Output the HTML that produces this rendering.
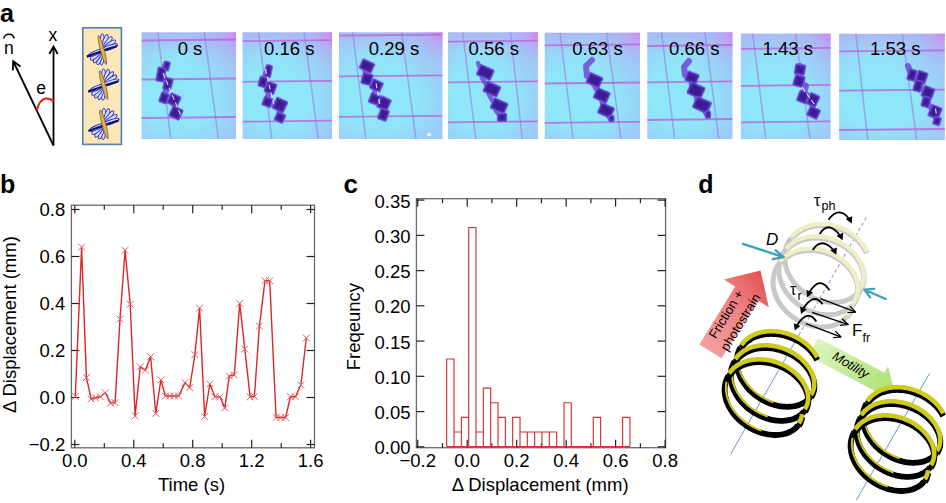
<!DOCTYPE html>
<html><head><meta charset="utf-8"><style>
html,body{margin:0;padding:0;background:#fff;}
svg{display:block;}
text{fill:#000;}
</style></head><body>
<svg width="946" height="503" viewBox="0 0 946 503" font-family='"Liberation Sans", sans-serif'>
<defs><linearGradient id="pg" x1="0" y1="0" x2="0" y2="1">
<stop offset="0" stop-color="#b0baf4"/><stop offset="0.08" stop-color="#a2cef6"/><stop offset="0.2" stop-color="#92e4f9"/><stop offset="0.8" stop-color="#8ee8fa"/><stop offset="1" stop-color="#96dcf8"/></linearGradient><radialGradient id="ph" cx="0.4" cy="0.6" r="0.75"><stop offset="0.45" stop-color="#a4bcf6" stop-opacity="0"/><stop offset="1" stop-color="#a4b8f6" stop-opacity="0.75"/></radialGradient><filter id="soft" x="-5%" y="-5%" width="110%" height="110%"><feGaussianBlur stdDeviation="0.6"/></filter><radialGradient id="pl" cx="1" cy="0" r="0.6"><stop offset="0" stop-color="#b4a4f0" stop-opacity="0.45"/><stop offset="1" stop-color="#b0b4f2" stop-opacity="0"/></radialGradient><radialGradient id="pk" cx="1" cy="0" r="0.28"><stop offset="0" stop-color="#e070f0" stop-opacity="0.75"/><stop offset="0.5" stop-color="#d890f2" stop-opacity="0.25"/><stop offset="1" stop-color="#c0a0f4" stop-opacity="0"/></radialGradient><clipPath id="c0"><rect x="141.4" y="32.2" width="94.8" height="106.8"/></clipPath><clipPath id="c1"><rect x="242.4" y="32.2" width="89.7" height="106.8"/></clipPath><clipPath id="c2"><rect x="338.8" y="32.2" width="103.8" height="106.8"/></clipPath><clipPath id="c3"><rect x="447.9" y="32.2" width="90.0" height="106.8"/></clipPath><clipPath id="c4"><rect x="544.5" y="32.6" width="95.5" height="106.4"/></clipPath><clipPath id="c5"><rect x="647.2" y="32.2" width="85.4" height="106.8"/></clipPath><clipPath id="c6"><rect x="740.7" y="33.4" width="90.0" height="105.6"/></clipPath><clipPath id="c7"><rect x="839.1" y="33.6" width="105.7" height="106.4"/></clipPath><linearGradient id="rg" x1="0" y1="1" x2="1" y2="0"><stop offset="0" stop-color="#f5a6a6"/><stop offset="0.6" stop-color="#ee7f7f"/><stop offset="1" stop-color="#e14a4a"/></linearGradient><linearGradient id="gg" x1="0" y1="0" x2="1" y2="0.5"><stop offset="0" stop-color="#e3f6c8"/><stop offset="1" stop-color="#b2e47e"/></linearGradient><marker id="ah" markerWidth="8" markerHeight="8" refX="7" refY="4" orient="auto" markerUnits="userSpaceOnUse"><path d="M0,0.5 L7.5,4 L0,7.5" fill="none" stroke="#000" stroke-width="1.3"/></marker></defs>
<text x="0.1" y="22.3" font-size="25" font-weight="bold">a</text>
<text x="3.9" y="54.4" font-size="17.5">n</text>
<path d="M3.9,38.6 A5.1,4.4 0 0 1 14.1,38.6" fill="none" stroke="#000" stroke-width="1.6"/>
<text x="48.4" y="40.6" font-size="17.5">x</text>
<line x1="53.5" y1="145.5" x2="53.5" y2="47.5" stroke="#000" stroke-width="1.8"/>
<path d="M49.3,54 L53.5,46.5 L57.7,54" fill="none" stroke="#000" stroke-width="1.8" stroke-linejoin="miter"/>
<line x1="53.5" y1="145.5" x2="13.8" y2="62.5" stroke="#000" stroke-width="1.8"/>
<path d="M20.5,66.6 L13.2,61.3 L12.8,70.4" fill="none" stroke="#000" stroke-width="1.8"/>
<text x="36.2" y="93.8" font-size="17.5">e</text>
<path d="M36.8,110.5 Q39.5,99.5 45.5,98.6 Q50.5,98.2 53.5,101.5" fill="none" stroke="#e0201a" stroke-width="2"/>
<rect x="82.8" y="27.8" width="38.6" height="116.6" fill="#fde6b8" stroke="#5a84b6" stroke-width="1.7"/>
<g transform="translate(102.3,49.9)"><ellipse cx="8" cy="0" rx="8.2" ry="2.1" transform="rotate(-90)" fill="#dcdefc" stroke="#2a30c0" stroke-width="0.95"/><ellipse cx="8" cy="0" rx="8.2" ry="2.1" transform="rotate(-72)" fill="#dcdefc" stroke="#2a30c0" stroke-width="0.95"/><ellipse cx="8" cy="0" rx="8.2" ry="2.1" transform="rotate(-54)" fill="#dcdefc" stroke="#2a30c0" stroke-width="0.95"/><ellipse cx="8" cy="0" rx="8.2" ry="2.1" transform="rotate(-36)" fill="#dcdefc" stroke="#2a30c0" stroke-width="0.95"/><ellipse cx="8" cy="0" rx="8.2" ry="2.1" transform="rotate(-19)" fill="#dcdefc" stroke="#2a30c0" stroke-width="0.95"/><ellipse cx="7.6" cy="0" rx="7.8" ry="2.1" transform="rotate(93)" fill="#dcdefc" stroke="#2a30c0" stroke-width="0.95"/><ellipse cx="7.6" cy="0" rx="7.8" ry="2.1" transform="rotate(108)" fill="#dcdefc" stroke="#2a30c0" stroke-width="0.95"/><ellipse cx="7.6" cy="0" rx="7.8" ry="2.1" transform="rotate(124)" fill="#dcdefc" stroke="#2a30c0" stroke-width="0.95"/><ellipse cx="7.6" cy="0" rx="7.8" ry="2.1" transform="rotate(140)" fill="#dcdefc" stroke="#2a30c0" stroke-width="0.95"/><ellipse cx="7.6" cy="0" rx="7.8" ry="2.1" transform="rotate(156)" fill="#dcdefc" stroke="#2a30c0" stroke-width="0.95"/><path d="M-15.8,5.6 L-4,1.4 L4,-1.6 L15,-5 L14.6,-2.6 L4,0.8 L-4,3.6 L-15.2,7.8 Z" fill="#0c0e6c"/><ellipse cx="0" cy="0" rx="1.9" ry="15" transform="rotate(-15)" fill="#eab232" stroke="#6a5a60" stroke-width="0.7"/></g>
<g transform="translate(103.6,85)"><ellipse cx="8" cy="0" rx="8.2" ry="2.1" transform="rotate(-90)" fill="#dcdefc" stroke="#2a30c0" stroke-width="0.95"/><ellipse cx="8" cy="0" rx="8.2" ry="2.1" transform="rotate(-72)" fill="#dcdefc" stroke="#2a30c0" stroke-width="0.95"/><ellipse cx="8" cy="0" rx="8.2" ry="2.1" transform="rotate(-54)" fill="#dcdefc" stroke="#2a30c0" stroke-width="0.95"/><ellipse cx="8" cy="0" rx="8.2" ry="2.1" transform="rotate(-36)" fill="#dcdefc" stroke="#2a30c0" stroke-width="0.95"/><ellipse cx="8" cy="0" rx="8.2" ry="2.1" transform="rotate(-19)" fill="#dcdefc" stroke="#2a30c0" stroke-width="0.95"/><ellipse cx="7.6" cy="0" rx="7.8" ry="2.1" transform="rotate(93)" fill="#dcdefc" stroke="#2a30c0" stroke-width="0.95"/><ellipse cx="7.6" cy="0" rx="7.8" ry="2.1" transform="rotate(108)" fill="#dcdefc" stroke="#2a30c0" stroke-width="0.95"/><ellipse cx="7.6" cy="0" rx="7.8" ry="2.1" transform="rotate(124)" fill="#dcdefc" stroke="#2a30c0" stroke-width="0.95"/><ellipse cx="7.6" cy="0" rx="7.8" ry="2.1" transform="rotate(140)" fill="#dcdefc" stroke="#2a30c0" stroke-width="0.95"/><ellipse cx="7.6" cy="0" rx="7.8" ry="2.1" transform="rotate(156)" fill="#dcdefc" stroke="#2a30c0" stroke-width="0.95"/><path d="M-15.8,5.6 L-4,1.4 L4,-1.6 L15,-5 L14.6,-2.6 L4,0.8 L-4,3.6 L-15.2,7.8 Z" fill="#0c0e6c"/><ellipse cx="0" cy="0" rx="1.9" ry="15" transform="rotate(-15)" fill="#eab232" stroke="#6a5a60" stroke-width="0.7"/></g>
<g transform="translate(103.9,124.3)"><ellipse cx="8" cy="0" rx="8.2" ry="2.1" transform="rotate(-90)" fill="#dcdefc" stroke="#2a30c0" stroke-width="0.95"/><ellipse cx="8" cy="0" rx="8.2" ry="2.1" transform="rotate(-72)" fill="#dcdefc" stroke="#2a30c0" stroke-width="0.95"/><ellipse cx="8" cy="0" rx="8.2" ry="2.1" transform="rotate(-54)" fill="#dcdefc" stroke="#2a30c0" stroke-width="0.95"/><ellipse cx="8" cy="0" rx="8.2" ry="2.1" transform="rotate(-36)" fill="#dcdefc" stroke="#2a30c0" stroke-width="0.95"/><ellipse cx="8" cy="0" rx="8.2" ry="2.1" transform="rotate(-19)" fill="#dcdefc" stroke="#2a30c0" stroke-width="0.95"/><ellipse cx="7.6" cy="0" rx="7.8" ry="2.1" transform="rotate(93)" fill="#dcdefc" stroke="#2a30c0" stroke-width="0.95"/><ellipse cx="7.6" cy="0" rx="7.8" ry="2.1" transform="rotate(108)" fill="#dcdefc" stroke="#2a30c0" stroke-width="0.95"/><ellipse cx="7.6" cy="0" rx="7.8" ry="2.1" transform="rotate(124)" fill="#dcdefc" stroke="#2a30c0" stroke-width="0.95"/><ellipse cx="7.6" cy="0" rx="7.8" ry="2.1" transform="rotate(140)" fill="#dcdefc" stroke="#2a30c0" stroke-width="0.95"/><ellipse cx="7.6" cy="0" rx="7.8" ry="2.1" transform="rotate(156)" fill="#dcdefc" stroke="#2a30c0" stroke-width="0.95"/><path d="M-15.8,5.6 L-4,1.4 L4,-1.6 L15,-5 L14.6,-2.6 L4,0.8 L-4,3.6 L-15.2,7.8 Z" fill="#0c0e6c"/><ellipse cx="0" cy="0" rx="1.9" ry="15" transform="rotate(-15)" fill="#eab232" stroke="#6a5a60" stroke-width="0.7"/></g>
<g clip-path="url(#c0)"><rect x="141.4" y="32.2" width="94.8" height="106.8" fill="url(#pg)"/><rect x="141.4" y="32.2" width="94.8" height="106.8" fill="url(#ph)"/><rect x="141.4" y="32.2" width="94.8" height="106.8" fill="url(#pl)"/><rect x="141.4" y="32.2" width="94.8" height="106.8" fill="url(#pk)"/><g filter="url(#soft)"><line x1="157.7" y1="32.2" x2="170.8" y2="139" stroke="#9888e4" stroke-width="1.5" stroke-opacity="0.7"/><line x1="204.2" y1="32.2" x2="218.5" y2="139" stroke="#9888e4" stroke-width="1.5" stroke-opacity="0.7"/><line x1="141.4" y1="40.5" x2="236.2" y2="39.5" stroke="#bc62d8" stroke-width="1.8" stroke-opacity="0.8"/><line x1="141.4" y1="79.5" x2="236.2" y2="78.5" stroke="#bc62d8" stroke-width="1.8" stroke-opacity="0.8"/><line x1="141.4" y1="118" x2="236.2" y2="117.0" stroke="#bc62d8" stroke-width="1.8" stroke-opacity="0.8"/><path d="M166,64 L162,74 L168,84 L164,97 L174,101 L176,114" fill="none" stroke="#6c4ad8" stroke-width="6" stroke-linejoin="round" stroke-linecap="round" stroke-opacity="0.85"/><rect x="163.5" y="61.5" width="6" height="9" rx="1.2" transform="rotate(15 166.5 66)" fill="#4c28aa" stroke="#7454dc" stroke-width="1.4" stroke-opacity="0.85"/><rect x="165.7" y="63.7" width="1.6" height="4.6" transform="rotate(15 166.5 66)" fill="#341a86" fill-opacity="0.75"/><rect x="157.0" y="67.5" width="8" height="14" rx="1.2" transform="rotate(10 161 74.5)" fill="#4c28aa" stroke="#7454dc" stroke-width="1.4" stroke-opacity="0.85"/><rect x="159.2" y="69.7" width="3.6" height="9.6" transform="rotate(10 161 74.5)" fill="#341a86" fill-opacity="0.75"/><rect x="164.0" y="78.0" width="8" height="12" rx="1.2" transform="rotate(15 168 84)" fill="#4c28aa" stroke="#7454dc" stroke-width="1.4" stroke-opacity="0.85"/><rect x="166.2" y="80.2" width="3.6" height="7.6" transform="rotate(15 168 84)" fill="#341a86" fill-opacity="0.75"/><rect x="160.0" y="93.0" width="8" height="10" rx="1.2" transform="rotate(20 164 98)" fill="#4c28aa" stroke="#7454dc" stroke-width="1.4" stroke-opacity="0.85"/><rect x="162.2" y="95.2" width="3.6" height="5.6" transform="rotate(20 164 98)" fill="#341a86" fill-opacity="0.75"/><rect x="168.5" y="94.5" width="11" height="11" rx="1.2" transform="rotate(25 174 100)" fill="#4c28aa" stroke="#7454dc" stroke-width="1.4" stroke-opacity="0.85"/><rect x="170.7" y="96.7" width="6.6" height="6.6" transform="rotate(25 174 100)" fill="#341a86" fill-opacity="0.75"/><rect x="170.5" y="107.5" width="11" height="11" rx="1.2" transform="rotate(25 176 113)" fill="#4c28aa" stroke="#7454dc" stroke-width="1.4" stroke-opacity="0.85"/><rect x="172.7" y="109.7" width="6.6" height="6.6" transform="rotate(25 176 113)" fill="#341a86" fill-opacity="0.75"/><line x1="163" y1="73" x2="181" y2="116" stroke="#f6f0ff" stroke-width="1.2" stroke-dasharray="5 3" stroke-opacity="0.85"/></g></g><text x="190" y="54.8" font-size="18.5" text-anchor="middle">0 s</text>
<g clip-path="url(#c1)"><rect x="242.4" y="32.2" width="89.7" height="106.8" fill="url(#pg)"/><rect x="242.4" y="32.2" width="89.7" height="106.8" fill="url(#ph)"/><rect x="242.4" y="32.2" width="89.7" height="106.8" fill="url(#pl)"/><rect x="242.4" y="32.2" width="89.7" height="106.8" fill="url(#pk)"/><g filter="url(#soft)"><line x1="258.6" y1="32.2" x2="271.8" y2="139" stroke="#9888e4" stroke-width="1.5" stroke-opacity="0.7"/><line x1="304" y1="32.2" x2="318.3" y2="139" stroke="#9888e4" stroke-width="1.5" stroke-opacity="0.7"/><line x1="242.4" y1="41.2" x2="332.1" y2="40.2" stroke="#bc62d8" stroke-width="1.8" stroke-opacity="0.8"/><line x1="242.4" y1="81.8" x2="332.1" y2="80.8" stroke="#bc62d8" stroke-width="1.8" stroke-opacity="0.8"/><line x1="242.4" y1="121.7" x2="332.1" y2="120.7" stroke="#bc62d8" stroke-width="1.8" stroke-opacity="0.8"/><path d="M268,68 L263,82 L270,88 L267,102 L279,106 L280,117" fill="none" stroke="#6c4ad8" stroke-width="6" stroke-linejoin="round" stroke-linecap="round" stroke-opacity="0.85"/><rect x="265.5" y="65.0" width="6" height="12" rx="1.2" transform="rotate(10 268.5 71)" fill="#4c28aa" stroke="#7454dc" stroke-width="1.4" stroke-opacity="0.85"/><rect x="267.7" y="67.2" width="1.6" height="7.6" transform="rotate(10 268.5 71)" fill="#341a86" fill-opacity="0.75"/><rect x="259.0" y="77.0" width="8" height="10" rx="1.2" transform="rotate(15 263 82)" fill="#4c28aa" stroke="#7454dc" stroke-width="1.4" stroke-opacity="0.85"/><rect x="261.2" y="79.2" width="3.6" height="5.6" transform="rotate(15 263 82)" fill="#341a86" fill-opacity="0.75"/><rect x="265.5" y="82.5" width="10" height="11" rx="1.2" transform="rotate(20 270.5 88)" fill="#4c28aa" stroke="#7454dc" stroke-width="1.4" stroke-opacity="0.85"/><rect x="267.7" y="84.7" width="5.6" height="6.6" transform="rotate(20 270.5 88)" fill="#341a86" fill-opacity="0.75"/><rect x="263.0" y="97.5" width="9" height="9" rx="1.2" transform="rotate(20 267.5 102)" fill="#4c28aa" stroke="#7454dc" stroke-width="1.4" stroke-opacity="0.85"/><rect x="265.2" y="99.7" width="4.6" height="4.6" transform="rotate(20 267.5 102)" fill="#341a86" fill-opacity="0.75"/><rect x="274.0" y="99.0" width="12" height="12" rx="1.2" transform="rotate(25 280 105)" fill="#4c28aa" stroke="#7454dc" stroke-width="1.4" stroke-opacity="0.85"/><rect x="276.2" y="101.2" width="7.6" height="7.6" transform="rotate(25 280 105)" fill="#341a86" fill-opacity="0.75"/><rect x="275.5" y="113.0" width="9" height="9" rx="1.2" transform="rotate(25 280 117.5)" fill="#4c28aa" stroke="#7454dc" stroke-width="1.4" stroke-opacity="0.85"/><rect x="277.7" y="115.2" width="4.6" height="4.6" transform="rotate(25 280 117.5)" fill="#341a86" fill-opacity="0.75"/><line x1="265.3" y1="69" x2="273.7" y2="104" stroke="#f6f0ff" stroke-width="1.2" stroke-dasharray="5 3" stroke-opacity="0.85"/></g></g><text x="289.2" y="54.8" font-size="18.5" text-anchor="middle">0.16 s</text>
<g clip-path="url(#c2)"><rect x="338.8" y="32.2" width="103.8" height="106.8" fill="url(#pg)"/><rect x="338.8" y="32.2" width="103.8" height="106.8" fill="url(#ph)"/><rect x="338.8" y="32.2" width="103.8" height="106.8" fill="url(#pl)"/><rect x="338.8" y="32.2" width="103.8" height="106.8" fill="url(#pk)"/><g filter="url(#soft)"><line x1="352.7" y1="32.2" x2="365.8" y2="139" stroke="#9888e4" stroke-width="1.5" stroke-opacity="0.7"/><line x1="401.6" y1="32.2" x2="415.9" y2="139" stroke="#9888e4" stroke-width="1.5" stroke-opacity="0.7"/><line x1="338.8" y1="35.7" x2="442.6" y2="34.7" stroke="#bc62d8" stroke-width="1.8" stroke-opacity="0.8"/><line x1="338.8" y1="76.3" x2="442.6" y2="75.3" stroke="#bc62d8" stroke-width="1.8" stroke-opacity="0.8"/><line x1="338.8" y1="116.9" x2="442.6" y2="115.9" stroke="#bc62d8" stroke-width="1.8" stroke-opacity="0.8"/><path d="M364,64 L367,79 L376,86 L374,99 L384,104 L383,115" fill="none" stroke="#6c4ad8" stroke-width="6" stroke-linejoin="round" stroke-linecap="round" stroke-opacity="0.85"/><rect x="360.5" y="61.0" width="13" height="10" rx="1.2" transform="rotate(25 367 66)" fill="#4c28aa" stroke="#7454dc" stroke-width="1.4" stroke-opacity="0.85"/><rect x="362.7" y="63.2" width="8.6" height="5.6" transform="rotate(25 367 66)" fill="#341a86" fill-opacity="0.75"/><rect x="362.0" y="73.5" width="10" height="11" rx="1.2" transform="rotate(15 367 79)" fill="#4c28aa" stroke="#7454dc" stroke-width="1.4" stroke-opacity="0.85"/><rect x="364.2" y="75.7" width="5.6" height="6.6" transform="rotate(15 367 79)" fill="#341a86" fill-opacity="0.75"/><rect x="371.0" y="80.6" width="11" height="10" rx="1.2" transform="rotate(25 376.5 85.6)" fill="#4c28aa" stroke="#7454dc" stroke-width="1.4" stroke-opacity="0.85"/><rect x="373.2" y="82.8" width="6.6" height="5.6" transform="rotate(25 376.5 85.6)" fill="#341a86" fill-opacity="0.75"/><rect x="369.6" y="94.0" width="10" height="10" rx="1.2" transform="rotate(20 374.6 99)" fill="#4c28aa" stroke="#7454dc" stroke-width="1.4" stroke-opacity="0.85"/><rect x="371.8" y="96.2" width="5.6" height="5.6" transform="rotate(20 374.6 99)" fill="#341a86" fill-opacity="0.75"/><rect x="378.5" y="97.5" width="11" height="12" rx="1.2" transform="rotate(25 384 103.5)" fill="#4c28aa" stroke="#7454dc" stroke-width="1.4" stroke-opacity="0.85"/><rect x="380.7" y="99.7" width="6.6" height="7.6" transform="rotate(25 384 103.5)" fill="#341a86" fill-opacity="0.75"/><rect x="379.0" y="109.2" width="9" height="11" rx="1.2" transform="rotate(20 383.5 114.7)" fill="#4c28aa" stroke="#7454dc" stroke-width="1.4" stroke-opacity="0.85"/><rect x="381.2" y="111.4" width="4.6" height="6.6" transform="rotate(20 383.5 114.7)" fill="#341a86" fill-opacity="0.75"/><line x1="376.1" y1="83.3" x2="379.9" y2="105.7" stroke="#f6f0ff" stroke-width="1.2" stroke-dasharray="5 3" stroke-opacity="0.85"/><circle cx="429" cy="134.6" r="2" fill="#f4f4ff"/></g></g><text x="394" y="54.8" font-size="18.5" text-anchor="middle">0.29 s</text>
<g clip-path="url(#c3)"><rect x="447.9" y="32.2" width="90.0" height="106.8" fill="url(#pg)"/><rect x="447.9" y="32.2" width="90.0" height="106.8" fill="url(#ph)"/><rect x="447.9" y="32.2" width="90.0" height="106.8" fill="url(#pl)"/><rect x="447.9" y="32.2" width="90.0" height="106.8" fill="url(#pk)"/><g filter="url(#soft)"><line x1="462.7" y1="32.2" x2="475.8" y2="139" stroke="#9888e4" stroke-width="1.5" stroke-opacity="0.7"/><line x1="510.4" y1="32.2" x2="522.3" y2="139" stroke="#9888e4" stroke-width="1.5" stroke-opacity="0.7"/><line x1="447.9" y1="41.7" x2="537.9" y2="40.7" stroke="#bc62d8" stroke-width="1.8" stroke-opacity="0.8"/><line x1="447.9" y1="82.3" x2="537.9" y2="81.3" stroke="#bc62d8" stroke-width="1.8" stroke-opacity="0.8"/><line x1="447.9" y1="122.4" x2="537.9" y2="121.4" stroke="#bc62d8" stroke-width="1.8" stroke-opacity="0.8"/><path d="M478,63 L481,71 L482,78 L487,86 L489,95 L494,103 L496,111 L501,117" fill="none" stroke="#6c4ad8" stroke-width="4.5" stroke-linejoin="round" stroke-linecap="round" stroke-opacity="0.85"/><rect x="477.8" y="66.9" width="15" height="11" rx="1.2" transform="rotate(24 485.3 72.4)" fill="#4c28aa" stroke="#7454dc" stroke-width="1.4" stroke-opacity="0.85"/><rect x="480.0" y="69.1" width="10.6" height="6.6" transform="rotate(24 485.3 72.4)" fill="#341a86" fill-opacity="0.75"/><rect x="484.4" y="83.6" width="15" height="11" rx="1.2" transform="rotate(24 491.9 89.1)" fill="#4c28aa" stroke="#7454dc" stroke-width="1.4" stroke-opacity="0.85"/><rect x="486.6" y="85.8" width="10.6" height="6.6" transform="rotate(24 491.9 89.1)" fill="#341a86" fill-opacity="0.75"/><rect x="491.6" y="100.3" width="15" height="11" rx="1.2" transform="rotate(24 499.1 105.8)" fill="#4c28aa" stroke="#7454dc" stroke-width="1.4" stroke-opacity="0.85"/><rect x="493.8" y="102.5" width="10.6" height="6.6" transform="rotate(24 499.1 105.8)" fill="#341a86" fill-opacity="0.75"/><rect x="497.5" y="113.4" width="9" height="8" rx="1.2" transform="rotate(0 502 117.4)" fill="#4c28aa" stroke="#7454dc" stroke-width="1.4" stroke-opacity="0.85"/><rect x="499.7" y="115.6" width="4.6" height="3.6" transform="rotate(0 502 117.4)" fill="#341a86" fill-opacity="0.75"/></g></g><text x="493.7" y="54.8" font-size="18.5" text-anchor="middle">0.56 s</text>
<g clip-path="url(#c4)"><rect x="544.5" y="32.6" width="95.5" height="106.4" fill="url(#pg)"/><rect x="544.5" y="32.6" width="95.5" height="106.4" fill="url(#ph)"/><rect x="544.5" y="32.6" width="95.5" height="106.4" fill="url(#pl)"/><rect x="544.5" y="32.6" width="95.5" height="106.4" fill="url(#pk)"/><g filter="url(#soft)"><line x1="560" y1="32.6" x2="573.2" y2="139" stroke="#9888e4" stroke-width="1.5" stroke-opacity="0.7"/><line x1="606.6" y1="32.6" x2="620.9" y2="139" stroke="#9888e4" stroke-width="1.5" stroke-opacity="0.7"/><line x1="544.5" y1="45.3" x2="640" y2="44.3" stroke="#bc62d8" stroke-width="1.8" stroke-opacity="0.8"/><line x1="544.5" y1="83.5" x2="640" y2="82.5" stroke="#bc62d8" stroke-width="1.8" stroke-opacity="0.8"/><line x1="544.5" y1="122.9" x2="640" y2="121.9" stroke="#bc62d8" stroke-width="1.8" stroke-opacity="0.8"/><path d="M592,60 L586,66 L587,76 L592,80 L596,88 L601,96 L603,104 L606,111 L611,119" fill="none" stroke="#6c4ad8" stroke-width="6" stroke-linejoin="round" stroke-linecap="round" stroke-opacity="0.85"/><rect x="587.5" y="74.7" width="14" height="11" rx="1.2" transform="rotate(24 594.5 80.2)" fill="#4c28aa" stroke="#7454dc" stroke-width="1.4" stroke-opacity="0.85"/><rect x="589.7" y="76.9" width="9.6" height="6.6" transform="rotate(24 594.5 80.2)" fill="#341a86" fill-opacity="0.75"/><rect x="594.8" y="89.9" width="14" height="11" rx="1.2" transform="rotate(24 601.8 95.4)" fill="#4c28aa" stroke="#7454dc" stroke-width="1.4" stroke-opacity="0.85"/><rect x="597.0" y="92.1" width="9.6" height="6.6" transform="rotate(24 601.8 95.4)" fill="#341a86" fill-opacity="0.75"/><rect x="599.0" y="105.0" width="14" height="11" rx="1.2" transform="rotate(24 606 110.5)" fill="#4c28aa" stroke="#7454dc" stroke-width="1.4" stroke-opacity="0.85"/><rect x="601.2" y="107.2" width="9.6" height="6.6" transform="rotate(24 606 110.5)" fill="#341a86" fill-opacity="0.75"/><rect x="609.0" y="115.5" width="5" height="6" rx="1.2" transform="rotate(0 611.5 118.5)" fill="#4c28aa" stroke="#7454dc" stroke-width="1.4" stroke-opacity="0.85"/><rect x="611.2" y="117.7" width="1.0" height="1.6" transform="rotate(0 611.5 118.5)" fill="#341a86" fill-opacity="0.75"/></g></g><text x="597.5" y="54.8" font-size="18.5" text-anchor="middle">0.63 s</text>
<g clip-path="url(#c5)"><rect x="647.2" y="32.2" width="85.4" height="106.8" fill="url(#pg)"/><rect x="647.2" y="32.2" width="85.4" height="106.8" fill="url(#ph)"/><rect x="647.2" y="32.2" width="85.4" height="106.8" fill="url(#pl)"/><rect x="647.2" y="32.2" width="85.4" height="106.8" fill="url(#pk)"/><g filter="url(#soft)"><line x1="661.5" y1="32.2" x2="674.6" y2="139" stroke="#9888e4" stroke-width="1.5" stroke-opacity="0.7"/><line x1="704.9" y1="32.2" x2="718.8" y2="139" stroke="#9888e4" stroke-width="1.5" stroke-opacity="0.7"/><line x1="647.2" y1="46" x2="732.6" y2="45.0" stroke="#bc62d8" stroke-width="1.8" stroke-opacity="0.8"/><line x1="647.2" y1="82.3" x2="732.6" y2="81.3" stroke="#bc62d8" stroke-width="1.8" stroke-opacity="0.8"/><line x1="647.2" y1="120" x2="732.6" y2="119.0" stroke="#bc62d8" stroke-width="1.8" stroke-opacity="0.8"/><path d="M689,61 L684,67 L685,75 L691,78 L692,86 L696,91 L697,99 L702,106 L708,116" fill="none" stroke="#6c4ad8" stroke-width="6" stroke-linejoin="round" stroke-linecap="round" stroke-opacity="0.85"/><rect x="686.0" y="72.6" width="12" height="10" rx="1.2" transform="rotate(20 692 77.6)" fill="#4c28aa" stroke="#7454dc" stroke-width="1.4" stroke-opacity="0.85"/><rect x="688.2" y="74.8" width="7.6" height="5.6" transform="rotate(20 692 77.6)" fill="#341a86" fill-opacity="0.75"/><rect x="688.5" y="84.5" width="15" height="12" rx="1.2" transform="rotate(24 696 90.5)" fill="#4c28aa" stroke="#7454dc" stroke-width="1.4" stroke-opacity="0.85"/><rect x="690.7" y="86.7" width="10.6" height="7.6" transform="rotate(24 696 90.5)" fill="#341a86" fill-opacity="0.75"/><rect x="694.0" y="99.0" width="16" height="12" rx="1.2" transform="rotate(24 702 105)" fill="#4c28aa" stroke="#7454dc" stroke-width="1.4" stroke-opacity="0.85"/><rect x="696.2" y="101.2" width="11.6" height="7.6" transform="rotate(24 702 105)" fill="#341a86" fill-opacity="0.75"/><rect x="705.5" y="111.0" width="5" height="7" rx="1.2" transform="rotate(0 708 114.5)" fill="#4c28aa" stroke="#7454dc" stroke-width="1.4" stroke-opacity="0.85"/><rect x="707.7" y="113.2" width="1.0" height="2.6" transform="rotate(0 708 114.5)" fill="#341a86" fill-opacity="0.75"/></g></g><text x="694.3" y="54.8" font-size="18.5" text-anchor="middle">0.66 s</text>
<g clip-path="url(#c6)"><rect x="740.7" y="33.4" width="90.0" height="105.6" fill="url(#pg)"/><rect x="740.7" y="33.4" width="90.0" height="105.6" fill="url(#ph)"/><rect x="740.7" y="33.4" width="90.0" height="105.6" fill="url(#pl)"/><rect x="740.7" y="33.4" width="90.0" height="105.6" fill="url(#pk)"/><g filter="url(#soft)"><line x1="752.7" y1="33.4" x2="765.8" y2="139" stroke="#9888e4" stroke-width="1.5" stroke-opacity="0.7"/><line x1="795.6" y1="33.4" x2="810" y2="139" stroke="#9888e4" stroke-width="1.5" stroke-opacity="0.7"/><line x1="740.7" y1="48.9" x2="830.7" y2="47.9" stroke="#bc62d8" stroke-width="1.8" stroke-opacity="0.8"/><line x1="740.7" y1="85.9" x2="830.7" y2="84.9" stroke="#bc62d8" stroke-width="1.8" stroke-opacity="0.8"/><line x1="740.7" y1="122.4" x2="830.7" y2="121.4" stroke="#bc62d8" stroke-width="1.8" stroke-opacity="0.8"/><path d="M800,66 L799,81 L806,86 L803,97 L812,101 L814,113" fill="none" stroke="#6c4ad8" stroke-width="6" stroke-linejoin="round" stroke-linecap="round" stroke-opacity="0.85"/><rect x="795.0" y="64.5" width="10" height="10" rx="1.2" transform="rotate(10 800 69.5)" fill="#4c28aa" stroke="#7454dc" stroke-width="1.4" stroke-opacity="0.85"/><rect x="797.2" y="66.7" width="5.6" height="5.6" transform="rotate(10 800 69.5)" fill="#341a86" fill-opacity="0.75"/><rect x="794.0" y="75.5" width="10" height="11" rx="1.2" transform="rotate(15 799 81)" fill="#4c28aa" stroke="#7454dc" stroke-width="1.4" stroke-opacity="0.85"/><rect x="796.2" y="77.7" width="5.6" height="6.6" transform="rotate(15 799 81)" fill="#341a86" fill-opacity="0.75"/><rect x="798.0" y="91.5" width="10" height="11" rx="1.2" transform="rotate(20 803 97)" fill="#4c28aa" stroke="#7454dc" stroke-width="1.4" stroke-opacity="0.85"/><rect x="800.2" y="93.7" width="5.6" height="6.6" transform="rotate(20 803 97)" fill="#341a86" fill-opacity="0.75"/><rect x="808.0" y="94.0" width="10" height="12" rx="1.2" transform="rotate(25 813 100)" fill="#4c28aa" stroke="#7454dc" stroke-width="1.4" stroke-opacity="0.85"/><rect x="810.2" y="96.2" width="5.6" height="7.6" transform="rotate(25 813 100)" fill="#341a86" fill-opacity="0.75"/><rect x="808.1" y="107.6" width="11" height="10" rx="1.2" transform="rotate(25 813.6 112.6)" fill="#4c28aa" stroke="#7454dc" stroke-width="1.4" stroke-opacity="0.85"/><rect x="810.3" y="109.8" width="6.6" height="5.6" transform="rotate(25 813.6 112.6)" fill="#341a86" fill-opacity="0.75"/><line x1="802" y1="87" x2="817" y2="108" stroke="#f6f0ff" stroke-width="1.2" stroke-dasharray="5 3" stroke-opacity="0.85"/></g></g><text x="787.8" y="54.8" font-size="18.5" text-anchor="middle">1.43 s</text>
<g clip-path="url(#c7)"><rect x="839.1" y="33.6" width="105.7" height="106.4" fill="url(#pg)"/><rect x="839.1" y="33.6" width="105.7" height="106.4" fill="url(#ph)"/><rect x="839.1" y="33.6" width="105.7" height="106.4" fill="url(#pl)"/><rect x="839.1" y="33.6" width="105.7" height="106.4" fill="url(#pk)"/><g filter="url(#soft)"><line x1="855.8" y1="33.6" x2="867.8" y2="140" stroke="#9888e4" stroke-width="1.5" stroke-opacity="0.7"/><line x1="902.4" y1="33.6" x2="916.7" y2="140" stroke="#9888e4" stroke-width="1.5" stroke-opacity="0.7"/><line x1="839.1" y1="51.3" x2="944.8" y2="50.3" stroke="#bc62d8" stroke-width="1.8" stroke-opacity="0.8"/><line x1="839.1" y1="90.6" x2="944.8" y2="89.6" stroke="#bc62d8" stroke-width="1.8" stroke-opacity="0.8"/><line x1="839.1" y1="130" x2="944.8" y2="129.0" stroke="#bc62d8" stroke-width="1.8" stroke-opacity="0.8"/><path d="M908,66 L912,75 L921,78 L918,86 L928,93 L926,102 L935,112 L937,121" fill="none" stroke="#6c4ad8" stroke-width="6" stroke-linejoin="round" stroke-linecap="round" stroke-opacity="0.85"/><rect x="908.0" y="69.5" width="8" height="11" rx="1.2" transform="rotate(15 912 75)" fill="#4c28aa" stroke="#7454dc" stroke-width="1.4" stroke-opacity="0.85"/><rect x="910.2" y="71.7" width="3.6" height="6.6" transform="rotate(15 912 75)" fill="#341a86" fill-opacity="0.75"/><rect x="916.5" y="71.5" width="10" height="12" rx="1.2" transform="rotate(20 921.5 77.5)" fill="#4c28aa" stroke="#7454dc" stroke-width="1.4" stroke-opacity="0.85"/><rect x="918.7" y="73.7" width="5.6" height="7.6" transform="rotate(20 921.5 77.5)" fill="#341a86" fill-opacity="0.75"/><rect x="914.0" y="80.5" width="8" height="11" rx="1.2" transform="rotate(15 918 86)" fill="#4c28aa" stroke="#7454dc" stroke-width="1.4" stroke-opacity="0.85"/><rect x="916.2" y="82.7" width="3.6" height="6.6" transform="rotate(15 918 86)" fill="#341a86" fill-opacity="0.75"/><rect x="922.5" y="87.0" width="11" height="11" rx="1.2" transform="rotate(22 928 92.5)" fill="#4c28aa" stroke="#7454dc" stroke-width="1.4" stroke-opacity="0.85"/><rect x="924.7" y="89.2" width="6.6" height="6.6" transform="rotate(22 928 92.5)" fill="#341a86" fill-opacity="0.75"/><rect x="922.0" y="97.0" width="8" height="10" rx="1.2" transform="rotate(15 926 102)" fill="#4c28aa" stroke="#7454dc" stroke-width="1.4" stroke-opacity="0.85"/><rect x="924.2" y="99.2" width="3.6" height="5.6" transform="rotate(15 926 102)" fill="#341a86" fill-opacity="0.75"/><rect x="929.5" y="106.0" width="11" height="12" rx="1.2" transform="rotate(22 935 112)" fill="#4c28aa" stroke="#7454dc" stroke-width="1.4" stroke-opacity="0.85"/><rect x="931.7" y="108.2" width="6.6" height="7.6" transform="rotate(22 935 112)" fill="#341a86" fill-opacity="0.75"/><rect x="933.5" y="117.0" width="7" height="8" rx="1.2" transform="rotate(15 937 121)" fill="#4c28aa" stroke="#7454dc" stroke-width="1.4" stroke-opacity="0.85"/><rect x="935.7" y="119.2" width="2.6" height="3.6" transform="rotate(15 937 121)" fill="#341a86" fill-opacity="0.75"/><line x1="935.4" y1="108.7" x2="936.8" y2="115.7" stroke="#f6f0ff" stroke-width="1.2" stroke-dasharray="5 3" stroke-opacity="0.85"/></g></g><text x="895.2" y="54.8" font-size="18.5" text-anchor="middle">1.53 s</text>
<text x="0" y="192.6" font-size="25" font-weight="bold">b</text>
<text x="65.3" y="216.4" font-size="18.5" text-anchor="end">0.8</text>
<text x="65.3" y="263.4" font-size="18.5" text-anchor="end">0.6</text>
<text x="65.3" y="310.4" font-size="18.5" text-anchor="end">0.4</text>
<text x="65.3" y="357.4" font-size="18.5" text-anchor="end">0.2</text>
<text x="65.3" y="404.4" font-size="18.5" text-anchor="end">0.0</text>
<text x="65.3" y="451.4" font-size="18.5" text-anchor="end">−0.2</text>
<text x="74.8" y="467.2" font-size="18.5" text-anchor="middle">0.0</text>
<text x="133.8" y="467.2" font-size="18.5" text-anchor="middle">0.4</text>
<text x="192.7" y="467.2" font-size="18.5" text-anchor="middle">0.8</text>
<text x="251.7" y="467.2" font-size="18.5" text-anchor="middle">1.2</text>
<text x="310.6" y="467.2" font-size="18.5" text-anchor="middle">1.6</text>
<rect x="71.4" y="205.2" width="243.1" height="242.6" fill="none" stroke="#6a6a6a" stroke-width="1.3"/><line x1="71.4" y1="209.5" x2="79.4" y2="209.5" stroke="#222" stroke-width="1.2"/><line x1="314.5" y1="209.5" x2="306.5" y2="209.5" stroke="#222" stroke-width="1.2"/><line x1="71.4" y1="256.5" x2="79.4" y2="256.5" stroke="#222" stroke-width="1.2"/><line x1="314.5" y1="256.5" x2="306.5" y2="256.5" stroke="#222" stroke-width="1.2"/><line x1="71.4" y1="303.5" x2="79.4" y2="303.5" stroke="#222" stroke-width="1.2"/><line x1="314.5" y1="303.5" x2="306.5" y2="303.5" stroke="#222" stroke-width="1.2"/><line x1="71.4" y1="350.5" x2="79.4" y2="350.5" stroke="#222" stroke-width="1.2"/><line x1="314.5" y1="350.5" x2="306.5" y2="350.5" stroke="#222" stroke-width="1.2"/><line x1="71.4" y1="397.5" x2="79.4" y2="397.5" stroke="#222" stroke-width="1.2"/><line x1="314.5" y1="397.5" x2="306.5" y2="397.5" stroke="#222" stroke-width="1.2"/><line x1="71.4" y1="444.5" x2="79.4" y2="444.5" stroke="#222" stroke-width="1.2"/><line x1="314.5" y1="444.5" x2="306.5" y2="444.5" stroke="#222" stroke-width="1.2"/><line x1="74.8" y1="447.8" x2="74.8" y2="439.8" stroke="#222" stroke-width="1.2"/><line x1="74.8" y1="205.2" x2="74.8" y2="213.2" stroke="#222" stroke-width="1.2"/><line x1="104.3" y1="447.8" x2="104.3" y2="443.3" stroke="#222" stroke-width="1.2"/><line x1="104.3" y1="205.2" x2="104.3" y2="209.7" stroke="#222" stroke-width="1.2"/><line x1="133.8" y1="447.8" x2="133.8" y2="439.8" stroke="#222" stroke-width="1.2"/><line x1="133.8" y1="205.2" x2="133.8" y2="213.2" stroke="#222" stroke-width="1.2"/><line x1="163.2" y1="447.8" x2="163.2" y2="443.3" stroke="#222" stroke-width="1.2"/><line x1="163.2" y1="205.2" x2="163.2" y2="209.7" stroke="#222" stroke-width="1.2"/><line x1="192.7" y1="447.8" x2="192.7" y2="439.8" stroke="#222" stroke-width="1.2"/><line x1="192.7" y1="205.2" x2="192.7" y2="213.2" stroke="#222" stroke-width="1.2"/><line x1="222.2" y1="447.8" x2="222.2" y2="443.3" stroke="#222" stroke-width="1.2"/><line x1="222.2" y1="205.2" x2="222.2" y2="209.7" stroke="#222" stroke-width="1.2"/><line x1="251.7" y1="447.8" x2="251.7" y2="439.8" stroke="#222" stroke-width="1.2"/><line x1="251.7" y1="205.2" x2="251.7" y2="213.2" stroke="#222" stroke-width="1.2"/><line x1="281.2" y1="447.8" x2="281.2" y2="443.3" stroke="#222" stroke-width="1.2"/><line x1="281.2" y1="205.2" x2="281.2" y2="209.7" stroke="#222" stroke-width="1.2"/><line x1="310.6" y1="447.8" x2="310.6" y2="439.8" stroke="#222" stroke-width="1.2"/><line x1="310.6" y1="205.2" x2="310.6" y2="213.2" stroke="#222" stroke-width="1.2"/>
<text x="191.5" y="490.5" font-size="18.5" text-anchor="middle">Time (s)</text>
<text transform="translate(15.8,324.6) rotate(-90)" font-size="18.5" text-anchor="middle">Δ Displacement (mm)</text>
<polyline points="75.3,396.4 81.6,247.1 86.4,377.6 91.2,399 95.6,397.8 100.3,396.7 105.3,392.8 110.6,403.1 115.1,402.6 120,319 125.1,250.3 130.2,304.2 135.1,415.9 140.3,366.8 145.4,370.2 150.6,356.7 155.8,413.4 160.9,379.9 165.4,396 169.8,396 174.2,396 178.6,396 185.1,382.6 189.7,387.7 194.9,354.6 199.6,308.1 204.6,416.5 209.9,384 214.9,396.8 220,396.9 224.8,407.9 229.3,376 234.3,375 239.7,303.4 244.8,349.1 250.1,396.9 254.4,396.5 259.4,326.1 265,280.7 269.7,280.7 276.1,417.5 280.9,417.5 285.6,417.5 290.4,396.8 295.5,396.8 300.9,385 306.3,338" fill="none" stroke="#d82828" stroke-width="1.4" stroke-linejoin="round"/>
<path d="M71.9,393.0L78.7,399.8M71.9,399.8L78.7,393.0M78.2,243.7L85.0,250.5M78.2,250.5L85.0,243.7M83.0,374.2L89.8,381.0M83.0,381.0L89.8,374.2M87.8,395.6L94.6,402.4M87.8,402.4L94.6,395.6M92.2,394.4L99.0,401.2M92.2,401.2L99.0,394.4M96.9,393.3L103.7,400.1M96.9,400.1L103.7,393.3M101.9,389.4L108.7,396.2M101.9,396.2L108.7,389.4M107.2,399.7L114.0,406.5M107.2,406.5L114.0,399.7M111.7,399.2L118.5,406.0M111.7,406.0L118.5,399.2M116.6,315.6L123.4,322.4M116.6,322.4L123.4,315.6M121.7,246.9L128.5,253.7M121.7,253.7L128.5,246.9M126.8,300.8L133.6,307.6M126.8,307.6L133.6,300.8M131.7,412.5L138.5,419.3M131.7,419.3L138.5,412.5M136.9,363.4L143.7,370.2M136.9,370.2L143.7,363.4M142.0,366.8L148.8,373.6M142.0,373.6L148.8,366.8M147.2,353.3L154.0,360.1M147.2,360.1L154.0,353.3M152.4,410.0L159.2,416.8M152.4,416.8L159.2,410.0M157.5,376.5L164.3,383.3M157.5,383.3L164.3,376.5M162.0,392.6L168.8,399.4M162.0,399.4L168.8,392.6M166.4,392.6L173.2,399.4M166.4,399.4L173.2,392.6M170.8,392.6L177.6,399.4M170.8,399.4L177.6,392.6M175.2,392.6L182.0,399.4M175.2,399.4L182.0,392.6M181.7,379.2L188.5,386.0M181.7,386.0L188.5,379.2M186.3,384.3L193.1,391.1M186.3,391.1L193.1,384.3M191.5,351.2L198.3,358.0M191.5,358.0L198.3,351.2M196.2,304.7L203.0,311.5M196.2,311.5L203.0,304.7M201.2,413.1L208.0,419.9M201.2,419.9L208.0,413.1M206.5,380.6L213.3,387.4M206.5,387.4L213.3,380.6M211.5,393.4L218.3,400.2M211.5,400.2L218.3,393.4M216.6,393.5L223.4,400.3M216.6,400.3L223.4,393.5M221.4,404.5L228.2,411.3M221.4,411.3L228.2,404.5M225.9,372.6L232.7,379.4M225.9,379.4L232.7,372.6M230.9,371.6L237.7,378.4M230.9,378.4L237.7,371.6M236.3,300.0L243.1,306.8M236.3,306.8L243.1,300.0M241.4,345.7L248.2,352.5M241.4,352.5L248.2,345.7M246.7,393.5L253.5,400.3M246.7,400.3L253.5,393.5M251.0,393.1L257.8,399.9M251.0,399.9L257.8,393.1M256.0,322.7L262.8,329.5M256.0,329.5L262.8,322.7M261.6,277.3L268.4,284.1M261.6,284.1L268.4,277.3M266.3,277.3L273.1,284.1M266.3,284.1L273.1,277.3M272.7,414.1L279.5,420.9M272.7,420.9L279.5,414.1M277.5,414.1L284.3,420.9M277.5,420.9L284.3,414.1M282.2,414.1L289.0,420.9M282.2,420.9L289.0,414.1M287.0,393.4L293.8,400.2M287.0,400.2L293.8,393.4M292.1,393.4L298.9,400.2M292.1,400.2L298.9,393.4M297.5,381.6L304.3,388.4M297.5,388.4L304.3,381.6M302.9,334.6L309.7,341.4M302.9,341.4L309.7,334.6" stroke="#e0606a" stroke-width="1" fill="none"/>
<text x="343.6" y="192.8" font-size="26" font-weight="bold">c</text>
<text x="410.6" y="454.2" font-size="18.5" text-anchor="end">0.00</text>
<text x="410.6" y="419.0" font-size="18.5" text-anchor="end">0.05</text>
<text x="410.6" y="383.7" font-size="18.5" text-anchor="end">0.10</text>
<text x="410.6" y="348.5" font-size="18.5" text-anchor="end">0.15</text>
<text x="410.6" y="313.2" font-size="18.5" text-anchor="end">0.20</text>
<text x="410.6" y="278.0" font-size="18.5" text-anchor="end">0.25</text>
<text x="410.6" y="242.8" font-size="18.5" text-anchor="end">0.30</text>
<text x="410.6" y="207.5" font-size="18.5" text-anchor="end">0.35</text>
<text x="417.7" y="467.2" font-size="18.5" text-anchor="middle">−0.2</text>
<text x="467.2" y="467.2" font-size="18.5" text-anchor="middle">0.0</text>
<text x="516.7" y="467.2" font-size="18.5" text-anchor="middle">0.2</text>
<text x="566.2" y="467.2" font-size="18.5" text-anchor="middle">0.4</text>
<text x="615.6" y="467.2" font-size="18.5" text-anchor="middle">0.6</text>
<text x="665.1" y="467.2" font-size="18.5" text-anchor="middle">0.8</text>
<rect x="416.4" y="198.7" width="249.2" height="249.0" fill="none" stroke="#6a6a6a" stroke-width="1.3"/><line x1="416.4" y1="446.8" x2="424.4" y2="446.8" stroke="#222" stroke-width="1.2"/><line x1="665.6" y1="446.8" x2="657.6" y2="446.8" stroke="#222" stroke-width="1.2"/><line x1="416.4" y1="411.6" x2="424.4" y2="411.6" stroke="#222" stroke-width="1.2"/><line x1="665.6" y1="411.6" x2="657.6" y2="411.6" stroke="#222" stroke-width="1.2"/><line x1="416.4" y1="376.3" x2="424.4" y2="376.3" stroke="#222" stroke-width="1.2"/><line x1="665.6" y1="376.3" x2="657.6" y2="376.3" stroke="#222" stroke-width="1.2"/><line x1="416.4" y1="341.1" x2="424.4" y2="341.1" stroke="#222" stroke-width="1.2"/><line x1="665.6" y1="341.1" x2="657.6" y2="341.1" stroke="#222" stroke-width="1.2"/><line x1="416.4" y1="305.8" x2="424.4" y2="305.8" stroke="#222" stroke-width="1.2"/><line x1="665.6" y1="305.8" x2="657.6" y2="305.8" stroke="#222" stroke-width="1.2"/><line x1="416.4" y1="270.6" x2="424.4" y2="270.6" stroke="#222" stroke-width="1.2"/><line x1="665.6" y1="270.6" x2="657.6" y2="270.6" stroke="#222" stroke-width="1.2"/><line x1="416.4" y1="235.4" x2="424.4" y2="235.4" stroke="#222" stroke-width="1.2"/><line x1="665.6" y1="235.4" x2="657.6" y2="235.4" stroke="#222" stroke-width="1.2"/><line x1="416.4" y1="200.1" x2="424.4" y2="200.1" stroke="#222" stroke-width="1.2"/><line x1="665.6" y1="200.1" x2="657.6" y2="200.1" stroke="#222" stroke-width="1.2"/><line x1="417.7" y1="447.7" x2="417.7" y2="439.7" stroke="#222" stroke-width="1.2"/><line x1="417.7" y1="198.7" x2="417.7" y2="206.7" stroke="#222" stroke-width="1.2"/><line x1="442.5" y1="447.7" x2="442.5" y2="443.2" stroke="#222" stroke-width="1.2"/><line x1="442.5" y1="198.7" x2="442.5" y2="203.2" stroke="#222" stroke-width="1.2"/><line x1="467.2" y1="447.7" x2="467.2" y2="439.7" stroke="#222" stroke-width="1.2"/><line x1="467.2" y1="198.7" x2="467.2" y2="206.7" stroke="#222" stroke-width="1.2"/><line x1="491.9" y1="447.7" x2="491.9" y2="443.2" stroke="#222" stroke-width="1.2"/><line x1="491.9" y1="198.7" x2="491.9" y2="203.2" stroke="#222" stroke-width="1.2"/><line x1="516.7" y1="447.7" x2="516.7" y2="439.7" stroke="#222" stroke-width="1.2"/><line x1="516.7" y1="198.7" x2="516.7" y2="206.7" stroke="#222" stroke-width="1.2"/><line x1="541.4" y1="447.7" x2="541.4" y2="443.2" stroke="#222" stroke-width="1.2"/><line x1="541.4" y1="198.7" x2="541.4" y2="203.2" stroke="#222" stroke-width="1.2"/><line x1="566.2" y1="447.7" x2="566.2" y2="439.7" stroke="#222" stroke-width="1.2"/><line x1="566.2" y1="198.7" x2="566.2" y2="206.7" stroke="#222" stroke-width="1.2"/><line x1="590.9" y1="447.7" x2="590.9" y2="443.2" stroke="#222" stroke-width="1.2"/><line x1="590.9" y1="198.7" x2="590.9" y2="203.2" stroke="#222" stroke-width="1.2"/><line x1="615.6" y1="447.7" x2="615.6" y2="439.7" stroke="#222" stroke-width="1.2"/><line x1="615.6" y1="198.7" x2="615.6" y2="206.7" stroke="#222" stroke-width="1.2"/><line x1="640.4" y1="447.7" x2="640.4" y2="443.2" stroke="#222" stroke-width="1.2"/><line x1="640.4" y1="198.7" x2="640.4" y2="203.2" stroke="#222" stroke-width="1.2"/><line x1="665.1" y1="447.7" x2="665.1" y2="439.7" stroke="#222" stroke-width="1.2"/><line x1="665.1" y1="198.7" x2="665.1" y2="206.7" stroke="#222" stroke-width="1.2"/>
<text x="540.2" y="490.5" font-size="18.5" text-anchor="middle">Δ Displacement (mm)</text>
<text transform="translate(359.8,326.6) rotate(-90)" font-size="18.5" text-anchor="middle">Freqeuncy</text>
<path d="M446.70,446.6V358.98H454.03V446.6M454.03,446.6V432.00H461.36V446.6M461.36,446.6V417.39H468.69V446.6M468.69,446.6V227.54H476.02V446.6M476.02,446.6V432.00H483.35V446.6M483.35,446.6V388.18H490.68V446.6M490.68,446.6V402.79H498.01V446.6M498.01,446.6V417.39H505.34V446.6M505.34,446.6V446.60H512.67V446.6M512.67,446.6V417.39H520.00V446.6M520.00,446.6V432.00H527.33V446.6M527.33,446.6V432.00H534.66V446.6M534.66,446.6V432.00H541.99V446.6M541.99,446.6V432.00H549.32V446.6M549.32,446.6V432.00H556.65V446.6M556.65,446.6V446.60H563.98V446.6M563.98,446.6V402.79H571.31V446.6M571.31,446.6V446.60H578.64V446.6M578.64,446.6V446.60H585.97V446.6M585.97,446.6V446.60H593.30V446.6M593.30,446.6V417.39H600.63V446.6M600.63,446.6V446.60H607.96V446.6M607.96,446.6V446.60H615.29V446.6M615.29,446.6V446.60H622.62V446.6M622.62,446.6V417.39H629.95V446.6M446.7,446.6H629.95" fill="none" stroke="#d83036" stroke-width="1.15"/>
<text x="698.2" y="192.6" font-size="25" font-weight="bold">d</text>
<path d="M721.5,358.2 L757.4,300.2 L768.8,307.3 L760.5,270.4 L723.8,279.4 L735.2,286.5 L699.3,344.6 Z" fill="url(#rg)"/>
<g transform="translate(732.3,319.3) rotate(-58.5)" font-size="13" fill="#1a1a1a"><text x="1.1" y="-3.6" text-anchor="middle">Friction +</text><text x="1.7" y="12.9" text-anchor="middle">photostrain</text></g>
<path d="M808.4,356.1 L875.0,391.0 L871.7,397.4 L894.0,389.3 L887.9,366.4 L884.6,372.8 L818.0,337.9 Z" fill="url(#gg)"/>
<text transform="translate(848.6,368.6) rotate(30.5)" font-size="12.8" font-style="italic" text-anchor="middle" fill="#1a1a1a">Motility</text>
<line x1="730.5" y1="454.4" x2="798.9" y2="335" stroke="#7095c8" stroke-width="1"/>
<line x1="798.9" y1="335" x2="866.9" y2="216.4" stroke="#8aa2d2" stroke-width="1.1" stroke-dasharray="3.5 2.5"/>
<line x1="856.4" y1="500" x2="929.5" y2="373.5" stroke="#6f95c8" stroke-width="1"/>
<path d="M791.0,238.2 L790.3,239.3 L789.5,240.4 L788.8,241.5 L788.2,242.6 L787.6,243.8 L787.1,245.0 L786.6,246.2 L786.2,247.5 L785.8,248.7 L785.5,250.0 L785.2,251.3 L785.0,252.6 L784.8,254.0 L784.7,255.3 L784.6,256.7 L784.6,258.0 L784.7,259.4 L784.8,260.8 L785.0,262.1 L785.2,263.5 L785.5,264.9 L785.8,266.3 L786.2,267.6 L786.6,269.0 L787.1,270.4 L787.6,271.7 L788.2,273.0 L788.8,274.4 L789.5,275.7 L790.2,277.0 L791.0,278.3 L791.8,279.5 L792.7,280.8 L793.6,282.0 L794.5,283.2 L795.5,284.4 L796.5,285.5 L797.6,286.6 L798.7,287.7 L799.8,288.8 L801.0,289.8 L802.2,290.8 L803.4,291.8 L804.7,292.7 L806.0,293.6 L807.3,294.4 L808.6,295.3 L810.0,296.0 L811.3,296.8 L812.7,297.5 L814.1,298.1 L815.5,298.7 L817.0,299.3 L818.4,299.8 L819.9,300.3 L821.3,300.7 L822.8,301.1 L824.2,301.4 L825.7,301.7 L827.2,301.9 L828.6,302.1 L830.1,302.3 L831.5,302.4 L832.9,302.4 L834.4,302.4 L835.8,302.4 L837.1,302.3 L838.5,302.2 L839.9,302.0 L841.2,301.7 L842.5,301.5 L843.8,301.1 L845.0,300.8 L846.3,300.4 L847.5,299.9 L848.6,299.4 L849.8,298.9 L850.9,298.3 L851.9,297.7 L853.0,297.0 L853.9,296.3 L854.9,295.6 L855.8,294.8 L856.6,294.0 L857.5,293.1" fill="none" stroke="#c9c9c9" stroke-width="5"/><path d="M785.5,250.2 L784.7,251.2 L784.0,252.3 L783.3,253.4 L782.6,254.6 L782.0,255.7 L781.5,256.9 L781.0,258.1 L780.5,259.4 L780.1,260.6 L779.8,261.9 L779.5,263.2 L779.3,264.5 L779.1,265.8 L779.0,267.2 L778.9,268.5 L778.9,269.9 L778.9,271.2 L779.0,272.6 L779.1,274.0 L779.3,275.4 L779.6,276.7 L779.9,278.1 L780.3,279.5 L780.7,280.8 L781.1,282.2 L781.6,283.6 L782.2,284.9 L782.8,286.2 L783.5,287.6 L784.2,288.9 L784.9,290.1 L785.7,291.4 L786.6,292.7 L787.5,293.9 L788.4,295.1 L789.4,296.3 L790.4,297.4 L791.5,298.6 L792.5,299.7 L793.7,300.7 L794.8,301.8 L796.0,302.8 L797.2,303.8 L798.5,304.7 L799.8,305.6 L801.1,306.5 L802.4,307.3 L803.7,308.1 L805.1,308.8 L806.5,309.5 L807.9,310.2 L809.3,310.8 L810.7,311.4 L812.2,311.9 L813.6,312.4 L815.1,312.9 L816.5,313.3 L818.0,313.6 L819.4,313.9 L820.9,314.2 L822.4,314.4 L823.8,314.5 L825.2,314.7 L826.7,314.7 L828.1,314.7 L829.5,314.7 L830.9,314.6 L832.3,314.5 L833.6,314.4 L835.0,314.1 L836.3,313.9 L837.6,313.6 L838.9,313.2 L840.1,312.8 L841.3,312.4 L842.5,311.9 L843.6,311.4 L844.7,310.8 L845.8,310.2 L846.8,309.5 L847.8,308.8 L848.8,308.1 L849.7,307.3 L850.6,306.5 L851.4,305.7" fill="none" stroke="#c9c9c9" stroke-width="5"/><path d="M779.2,263.2 L778.5,264.3 L777.8,265.4 L777.1,266.5 L776.5,267.7 L775.9,268.8 L775.4,270.0 L774.9,271.3 L774.5,272.5 L774.1,273.8 L773.8,275.1 L773.6,276.4 L773.4,277.7 L773.2,279.0 L773.1,280.4 L773.1,281.7 L773.1,283.1 L773.2,284.5 L773.3,285.8 L773.5,287.2 L773.7,288.6 L774.0,290.0 L774.4,291.3 L774.8,292.7 L775.2,294.1 L775.7,295.4 L776.2,296.8 L776.8,298.1 L777.5,299.4 L778.2,300.7 L778.9,302.0 L779.7,303.3 L780.5,304.6 L781.4,305.8 L782.3,307.0 L783.3,308.2 L784.3,309.4 L785.3,310.5 L786.4,311.6 L787.5,312.7 L788.7,313.7 L789.8,314.8 L791.0,315.8 L792.3,316.7 L793.6,317.6 L794.8,318.5 L796.2,319.3 L797.5,320.1 L798.9,320.9 L800.2,321.6 L801.6,322.3 L803.0,322.9 L804.5,323.5 L805.9,324.1 L807.4,324.6 L808.8,325.0 L810.3,325.4 L811.7,325.8 L813.2,326.1 L814.6,326.4 L816.1,326.6 L817.6,326.8 L819.0,326.9 L820.4,327.0 L821.9,327.1 L823.3,327.0 L824.7,327.0 L826.1,326.9 L827.4,326.7 L828.8,326.5 L830.1,326.3 L831.4,326.0 L832.7,325.6 L833.9,325.3 L835.1,324.8 L836.3,324.4 L837.5,323.9 L838.6,323.3 L839.7,322.7 L840.7,322.1 L841.7,321.4 L842.7,320.7 L843.6,319.9 L844.5,319.1 L845.4,318.3 L846.2,317.4" fill="none" stroke="#c9c9c9" stroke-width="5"/><path d="M866.9,253.1 L866.3,251.9 L865.7,250.7 L865.1,249.5 L864.4,248.3 L863.6,247.2 L862.8,246.0 L862.0,244.9 L861.1,243.8 L860.1,242.7 L859.2,241.6 L858.1,240.5 L857.1,239.5 L856.0,238.5 L854.8,237.5 L853.7,236.6 L852.5,235.7 L851.2,234.8 L850.0,234.0 L848.7,233.1 L847.3,232.4 L846.0,231.6 L844.6,230.9 L843.2,230.3 L841.8,229.6 L840.3,229.1 L838.9,228.5 L837.4,228.0 L835.9,227.6 L834.4,227.1 L832.9,226.8 L831.4,226.4 L829.8,226.2 L828.3,225.9 L826.8,225.8 L825.3,225.6 L823.7,225.5 L822.2,225.5 L820.7,225.5 L819.2,225.5 L817.7,225.6 L816.2,225.8 L814.7,226.0 L813.3,226.2 L811.9,226.5 L810.4,226.8 L809.1,227.2 L807.7,227.7 L806.3,228.1 L805.0,228.6 L803.7,229.2 L802.5,229.8 L801.2,230.5 L800.0,231.2 L798.9,231.9 L797.8,232.7 L796.7,233.5 L795.6,234.3 L794.6,235.2 L793.7,236.1 L792.7,237.1 L791.9,238.1" fill="none" stroke="#c8c8c8" stroke-width="5.6"/><path d="M866.9,251.6 L866.3,250.4 L865.7,249.2 L865.1,248.0 L864.4,246.8 L863.6,245.7 L862.8,244.5 L862.0,243.4 L861.1,242.3 L860.1,241.2 L859.2,240.1 L858.1,239.0 L857.1,238.0 L856.0,237.0 L854.8,236.0 L853.7,235.1 L852.5,234.2 L851.2,233.3 L850.0,232.5 L848.7,231.6 L847.3,230.9 L846.0,230.1 L844.6,229.4 L843.2,228.8 L841.8,228.1 L840.3,227.6 L838.9,227.0 L837.4,226.5 L835.9,226.1 L834.4,225.6 L832.9,225.3 L831.4,224.9 L829.8,224.7 L828.3,224.4 L826.8,224.3 L825.3,224.1 L823.7,224.0 L822.2,224.0 L820.7,224.0 L819.2,224.0 L817.7,224.1 L816.2,224.3 L814.7,224.5 L813.3,224.7 L811.9,225.0 L810.4,225.3 L809.1,225.7 L807.7,226.2 L806.3,226.6 L805.0,227.1 L803.7,227.7 L802.5,228.3 L801.2,229.0 L800.0,229.7 L798.9,230.4 L797.8,231.2 L796.7,232.0 L795.6,232.8 L794.6,233.7 L793.7,234.6 L792.7,235.6 L791.9,236.6" fill="none" stroke="#efefc6" stroke-width="4.3"/><path d="M858.2,293.1 L859.0,292.2 L859.6,291.3 L860.3,290.3 L860.8,289.3 L861.4,288.3 L861.8,287.2 L862.3,286.2 L862.6,285.1 L863.0,283.9 L863.2,282.8 L863.4,281.7 L863.6,280.5 L863.7,279.3 L863.8,278.1 L863.8,276.9 L863.7,275.7 L863.6,274.5 L863.4,273.2 L863.2,272.0 L862.9,270.8 L862.6,269.5 L862.2,268.3 L861.8,267.1 L861.3,265.9 L860.8,264.6 L860.2,263.4 L859.5,262.2 L858.8,261.0 L858.1,259.9 L857.3,258.7 L856.5,257.6 L855.6,256.4 L854.7,255.3 L853.7,254.3 L852.7,253.2 L851.7,252.2 L850.6,251.2 L849.5,250.2 L848.3,249.2 L847.1,248.3 L845.9,247.4 L844.6,246.5 L843.3,245.7 L842.0,244.9 L840.7,244.2 L839.3,243.5 L837.9,242.8 L836.5,242.1 L835.0,241.6 L833.6,241.0 L832.1,240.5 L830.6,240.0 L829.1,239.6 L827.6,239.2 L826.1,238.9 L824.6,238.6 L823.1,238.3 L821.5,238.1 L820.0,238.0 L818.5,237.9 L817.0,237.8 L815.4,237.8 L813.9,237.8 L812.4,237.9 L810.9,238.0 L809.5,238.2 L808.0,238.4 L806.6,238.7 L805.1,239.0 L803.7,239.4 L802.4,239.8 L801.0,240.3 L799.7,240.8 L798.4,241.3 L797.1,241.9 L795.9,242.6 L794.7,243.2 L793.5,243.9 L792.4,244.7 L791.3,245.5 L790.2,246.3 L789.2,247.2 L788.2,248.1 L787.3,249.1 L786.4,250.1" fill="none" stroke="#c8c8c8" stroke-width="5.6"/><path d="M858.2,291.6 L859.0,290.7 L859.6,289.8 L860.3,288.8 L860.8,287.8 L861.4,286.8 L861.8,285.7 L862.3,284.7 L862.6,283.6 L863.0,282.4 L863.2,281.3 L863.4,280.2 L863.6,279.0 L863.7,277.8 L863.8,276.6 L863.8,275.4 L863.7,274.2 L863.6,273.0 L863.4,271.7 L863.2,270.5 L862.9,269.3 L862.6,268.0 L862.2,266.8 L861.8,265.6 L861.3,264.4 L860.8,263.1 L860.2,261.9 L859.5,260.7 L858.8,259.5 L858.1,258.4 L857.3,257.2 L856.5,256.1 L855.6,254.9 L854.7,253.8 L853.7,252.8 L852.7,251.7 L851.7,250.7 L850.6,249.7 L849.5,248.7 L848.3,247.7 L847.1,246.8 L845.9,245.9 L844.6,245.0 L843.3,244.2 L842.0,243.4 L840.7,242.7 L839.3,242.0 L837.9,241.3 L836.5,240.6 L835.0,240.1 L833.6,239.5 L832.1,239.0 L830.6,238.5 L829.1,238.1 L827.6,237.7 L826.1,237.4 L824.6,237.1 L823.1,236.8 L821.5,236.6 L820.0,236.5 L818.5,236.4 L817.0,236.3 L815.4,236.3 L813.9,236.3 L812.4,236.4 L810.9,236.5 L809.5,236.7 L808.0,236.9 L806.6,237.2 L805.1,237.5 L803.7,237.9 L802.4,238.3 L801.0,238.8 L799.7,239.3 L798.4,239.8 L797.1,240.4 L795.9,241.1 L794.7,241.7 L793.5,242.4 L792.4,243.2 L791.3,244.0 L790.2,244.8 L789.2,245.7 L788.2,246.6 L787.3,247.6 L786.4,248.6" fill="none" stroke="#efefc6" stroke-width="4.3"/><path d="M852.2,305.7 L852.9,304.8 L853.6,303.9 L854.3,302.9 L854.9,302.0 L855.4,300.9 L855.9,299.9 L856.4,298.8 L856.8,297.7 L857.1,296.6 L857.4,295.5 L857.6,294.4 L857.8,293.2 L857.9,292.0 L858.0,290.8 L858.0,289.6 L858.0,288.4 L857.9,287.2 L857.7,286.0 L857.5,284.7 L857.3,283.5 L856.9,282.3 L856.6,281.0 L856.2,279.8 L855.7,278.6 L855.2,277.4 L854.6,276.1 L854.0,274.9 L853.3,273.7 L852.6,272.6 L851.8,271.4 L851.0,270.3 L850.1,269.1 L849.2,268.0 L848.3,266.9 L847.3,265.9 L846.3,264.8 L845.2,263.8 L844.1,262.8 L842.9,261.8 L841.7,260.9 L840.5,260.0 L839.3,259.1 L838.0,258.3 L836.7,257.5 L835.3,256.7 L834.0,256.0 L832.6,255.3 L831.2,254.7 L829.8,254.1 L828.3,253.5 L826.8,253.0 L825.4,252.5 L823.9,252.0 L822.4,251.6 L820.8,251.3 L819.3,251.0 L817.8,250.7 L816.3,250.5 L814.7,250.3 L813.2,250.2 L811.7,250.1 L810.2,250.1 L808.7,250.1 L807.2,250.2 L805.7,250.3 L804.2,250.5 L802.7,250.7 L801.3,250.9 L799.9,251.2 L798.4,251.6 L797.1,252.0 L795.7,252.4 L794.4,252.9 L793.0,253.4 L791.8,254.0 L790.5,254.6 L789.3,255.3 L788.1,256.0 L787.0,256.8 L785.9,257.5 L784.8,258.4 L783.8,259.2 L782.8,260.1 L781.8,261.1 L780.9,262.0 L780.1,263.1" fill="none" stroke="#c8c8c8" stroke-width="5.6"/><path d="M852.2,304.2 L852.9,303.3 L853.6,302.4 L854.3,301.4 L854.9,300.5 L855.4,299.4 L855.9,298.4 L856.4,297.3 L856.8,296.2 L857.1,295.1 L857.4,294.0 L857.6,292.9 L857.8,291.7 L857.9,290.5 L858.0,289.3 L858.0,288.1 L858.0,286.9 L857.9,285.7 L857.7,284.5 L857.5,283.2 L857.3,282.0 L856.9,280.8 L856.6,279.5 L856.2,278.3 L855.7,277.1 L855.2,275.9 L854.6,274.6 L854.0,273.4 L853.3,272.2 L852.6,271.1 L851.8,269.9 L851.0,268.8 L850.1,267.6 L849.2,266.5 L848.3,265.4 L847.3,264.4 L846.3,263.3 L845.2,262.3 L844.1,261.3 L842.9,260.3 L841.7,259.4 L840.5,258.5 L839.3,257.6 L838.0,256.8 L836.7,256.0 L835.3,255.2 L834.0,254.5 L832.6,253.8 L831.2,253.2 L829.8,252.6 L828.3,252.0 L826.8,251.5 L825.4,251.0 L823.9,250.5 L822.4,250.1 L820.8,249.8 L819.3,249.5 L817.8,249.2 L816.3,249.0 L814.7,248.8 L813.2,248.7 L811.7,248.6 L810.2,248.6 L808.7,248.6 L807.2,248.7 L805.7,248.8 L804.2,249.0 L802.7,249.2 L801.3,249.4 L799.9,249.7 L798.4,250.1 L797.1,250.5 L795.7,250.9 L794.4,251.4 L793.0,251.9 L791.8,252.5 L790.5,253.1 L789.3,253.8 L788.1,254.5 L787.0,255.3 L785.9,256.0 L784.8,256.9 L783.8,257.7 L782.8,258.6 L781.8,259.6 L780.9,260.5 L780.1,261.6" fill="none" stroke="#efefc6" stroke-width="4.3"/><path d="M846.9,317.5 L847.6,316.5 L848.3,315.6 L848.9,314.6 L849.5,313.6 L850.0,312.6 L850.4,311.5 L850.9,310.4" fill="none" stroke="#c8c8c8" stroke-width="5.6"/><path d="M846.9,316.0 L847.6,315.0 L848.3,314.1 L848.9,313.1 L849.5,312.1 L850.0,311.1 L850.4,310.0 L850.9,308.9" fill="none" stroke="#efefc6" stroke-width="4.3"/>
<path d="M740.6,347.3 L740.0,348.4 L739.5,349.5 L738.9,350.6 L738.5,351.8 L738.1,352.9 L737.7,354.1 L737.4,355.3 L737.2,356.6 L737.0,357.8 L736.8,359.1 L736.7,360.3 L736.7,361.6 L736.7,362.9 L736.8,364.2 L736.9,365.5 L737.1,366.8 L737.4,368.2 L737.6,369.5 L738.0,370.8 L738.4,372.1 L738.8,373.4 L739.3,374.7 L739.9,376.0 L740.5,377.3 L741.1,378.6 L741.8,379.9 L742.6,381.1 L743.4,382.4 L744.2,383.6 L745.1,384.8 L746.0,386.0 L746.9,387.2 L747.9,388.3 L749.0,389.5 L750.0,390.6 L751.2,391.6 L752.3,392.7 L753.5,393.7 L754.7,394.7 L755.9,395.6 L757.2,396.6 L758.5,397.4 L759.8,398.3 L761.1,399.1 L762.5,399.9 L763.8,400.6 L765.2,401.3 L766.6,402.0 L768.0,402.6 L769.4,403.2 L770.9,403.7 L772.3,404.2 L773.8,404.7 L775.2,405.1 L776.6,405.5 L778.1,405.8 L779.5,406.1 L781.0,406.3 L782.4,406.5 L783.8,406.6 L785.2,406.7 L786.6,406.8 L788.0,406.8 L789.3,406.7 L790.7,406.7 L792.0,406.5 L793.3,406.3 L794.6,406.1 L795.8,405.9 L797.0,405.6 L798.2,405.2 L799.4,404.8 L800.5,404.4 L801.6,403.9 L802.6,403.4 L803.6,402.8 L804.6,402.3 L805.6,401.6 L806.4,401.0 L807.3,400.3 L808.1,399.5 L808.9,398.7 L809.6,397.9 L810.2,397.1" fill="none" stroke="#000" stroke-width="5.8"/><path d="M734.5,361.5 L733.9,362.6 L733.4,363.7 L732.9,364.8 L732.4,366.0 L732.0,367.1 L731.6,368.3 L731.3,369.5 L731.1,370.8 L730.9,372.0 L730.8,373.3 L730.7,374.5 L730.7,375.8 L730.7,377.1 L730.8,378.4 L730.9,379.7 L731.1,381.0 L731.3,382.3 L731.6,383.7 L732.0,385.0 L732.4,386.3 L732.8,387.6 L733.3,388.9 L733.9,390.2 L734.5,391.5 L735.1,392.8 L735.8,394.1 L736.6,395.3 L737.4,396.6 L738.2,397.8 L739.1,399.0 L740.0,400.2 L741.0,401.4 L742.0,402.5 L743.0,403.6 L744.1,404.7 L745.2,405.8 L746.3,406.9 L747.5,407.9 L748.7,408.9 L750.0,409.8 L751.2,410.7 L752.5,411.6 L753.8,412.5 L755.2,413.3 L756.5,414.0 L757.9,414.8 L759.3,415.5 L760.7,416.1 L762.1,416.8 L763.5,417.3 L764.9,417.9 L766.4,418.4 L767.8,418.8 L769.3,419.2 L770.7,419.6 L772.1,419.9 L773.6,420.2 L775.0,420.4 L776.4,420.6 L777.9,420.7 L779.3,420.8 L780.7,420.9 L782.0,420.9 L783.4,420.8 L784.7,420.7 L786.0,420.6 L787.3,420.4 L788.6,420.2 L789.8,419.9 L791.1,419.6 L792.2,419.3 L793.4,418.9 L794.5,418.5 L795.6,418.0 L796.7,417.5 L797.7,416.9 L798.6,416.3 L799.6,415.7 L800.5,415.0 L801.3,414.3 L802.1,413.6 L802.9,412.8 L803.6,412.0 L804.2,411.2" fill="none" stroke="#000" stroke-width="5.8"/><path d="M728.4,375.7 L727.8,376.8 L727.3,377.9 L726.8,379.0 L726.3,380.1 L725.9,381.3 L725.6,382.5 L725.3,383.7 L725.0,384.9 L724.8,386.2 L724.7,387.4 L724.6,388.7 L724.6,390.0 L724.6,391.3 L724.7,392.6 L724.9,393.9 L725.0,395.2 L725.3,396.5 L725.6,397.9 L725.9,399.2 L726.3,400.5 L726.8,401.8 L727.3,403.1 L727.9,404.4 L728.5,405.7 L729.1,407.0 L729.8,408.3 L730.6,409.5 L731.4,410.8 L732.2,412.0 L733.1,413.2 L734.0,414.4 L735.0,415.6 L736.0,416.7 L737.0,417.8 L738.1,418.9 L739.2,420.0 L740.4,421.0 L741.5,422.0 L742.8,423.0 L744.0,424.0 L745.3,424.9 L746.5,425.8 L747.9,426.6 L749.2,427.4 L750.6,428.2 L751.9,428.9 L753.3,429.6 L754.7,430.3 L756.1,430.9 L757.6,431.5 L759.0,432.0 L760.4,432.5 L761.9,433.0 L763.3,433.4 L764.8,433.7 L766.2,434.0 L767.6,434.3 L769.1,434.5 L770.5,434.7 L771.9,434.8 L773.3,434.9 L774.7,435.0 L776.1,435.0 L777.4,434.9 L778.8,434.8 L780.1,434.7 L781.4,434.5 L782.6,434.3 L783.9,434.0 L785.1,433.7 L786.3,433.4 L787.4,433.0 L788.5,432.5 L789.6,432.0 L790.7,431.5 L791.7,431.0 L792.7,430.4 L793.6,429.7 L794.5,429.1 L795.3,428.4 L796.1,427.6 L796.9,426.8 L797.6,426.0 L798.2,425.2" fill="none" stroke="#000" stroke-width="5.8"/><path d="M738.7,353.4 L738.5,354.7 L738.3,355.9 L738.1,357.2 L738.0,358.4 L738.0,359.7 L738.0,361.0 L738.1,362.3 L738.2,363.6 L738.4,364.9 L738.7,366.3 L738.9,367.6 L739.3,368.9 L739.7,370.2 L740.1,371.5 L740.6,372.8 L741.2,374.1 L741.8,375.4 L742.4,376.7 L743.1,378.0 L743.9,379.2 L744.7,380.5 L745.5,381.7 L746.4,382.9 L747.3,384.1 L748.2,385.3 L749.2,386.4 L750.3,387.6 L751.3,388.7 L752.5,389.7 L753.6,390.8 L754.8,391.8 L756.0,392.8 L757.2,393.7 L758.5,394.7 L759.8,395.5 L761.1,396.4 L762.4,397.2 L763.8,398.0 L765.1,398.7 L766.5,399.4 L767.9,400.1 L769.3,400.7 L770.7,401.3 L772.2,401.8 L773.6,402.3" fill="none" stroke="#c8c61c" stroke-width="2.0"/><path d="M732.6,367.6 L732.4,368.9 L732.2,370.1 L732.1,371.4 L732.0,372.6 L732.0,373.9 L732.0,375.2 L732.1,376.5 L732.2,377.8 L732.4,379.1 L732.6,380.4 L732.9,381.8 L733.3,383.1 L733.7,384.4 L734.1,385.7 L734.6,387.0 L735.2,388.3 L735.8,389.6 L736.4,390.9 L737.1,392.2 L737.9,393.4 L738.7,394.7 L739.5,395.9 L740.4,397.1 L741.3,398.3 L742.3,399.5 L743.3,400.6 L744.3,401.7 L745.4,402.8 L746.5,403.9 L747.6,405.0 L748.8,406.0 L750.0,407.0 L751.3,407.9 L752.5,408.8 L753.8,409.7 L755.1,410.6 L756.5,411.4 L757.8,412.1 L759.2,412.9 L760.6,413.6 L762.0,414.2 L763.4,414.9 L764.8,415.4 L766.2,416.0 L767.7,416.5" fill="none" stroke="#c8c61c" stroke-width="2.0"/><path d="M726.6,381.8 L726.3,383.0 L726.1,384.3 L726.0,385.5 L725.9,386.8 L725.9,388.1 L725.9,389.4 L726.0,390.7 L726.2,392.0 L726.3,393.3 L726.6,394.6 L726.9,396.0 L727.2,397.3 L727.6,398.6 L728.1,399.9 L728.6,401.2 L729.2,402.5 L729.8,403.8 L730.4,405.1 L731.1,406.4 L731.9,407.6 L732.7,408.9 L733.5,410.1 L734.4,411.3 L735.3,412.5 L736.3,413.7 L737.3,414.8 L738.3,415.9 L739.4,417.0 L740.5,418.1 L741.7,419.1 L742.8,420.1 L744.1,421.1 L745.3,422.1 L746.6,423.0 L747.8,423.9 L749.2,424.7 L750.5,425.5 L751.9,426.3 L753.2,427.0 L754.6,427.7 L756.0,428.4 L757.4,429.0 L758.9,429.6 L760.3,430.1 L761.7,430.6" fill="none" stroke="#c8c61c" stroke-width="2.0"/><path d="M817.2,360.1 L816.6,359.0 L816.0,357.8 L815.3,356.7 L814.6,355.6 L813.8,354.5 L812.9,353.4 L812.1,352.3 L811.1,351.3 L810.2,350.2 L809.2,349.2 L808.1,348.2 L807.0,347.2 L805.9,346.3 L804.7,345.4 L803.5,344.5 L802.3,343.6 L801.1,342.8 L799.8,342.0 L798.4,341.2 L797.1,340.4 L795.7,339.7 L794.3,339.1 L792.9,338.4 L791.5,337.8 L790.0,337.3 L788.6,336.8 L787.1,336.3 L785.6,335.8 L784.1,335.4 L782.6,335.1 L781.1,334.8 L779.6,334.5 L778.1,334.3 L776.6,334.1 L775.0,334.0 L773.5,333.9 L772.0,333.8 L770.5,333.8 L769.1,333.9 L767.6,334.0 L766.1,334.1 L764.7,334.3 L763.3,334.5 L761.9,334.8 L760.5,335.1 L759.1,335.5 L757.8,335.9 L756.5,336.3 L755.2,336.8 L754.0,337.3 L752.8,337.9 L751.6,338.5 L750.5,339.2 L749.4,339.9 L748.3,340.6 L747.3,341.4 L746.3,342.2 L745.3,343.1 L744.4,343.9 L743.6,344.9 L742.8,345.8 L742.0,346.8 L741.3,347.8" fill="none" stroke="#000" stroke-width="6"/><path d="M817.2,357.4 L816.6,356.3 L816.0,355.1 L815.3,354.0 L814.6,352.9 L813.8,351.8 L812.9,350.7 L812.1,349.6 L811.1,348.6 L810.2,347.5 L809.2,346.5 L808.1,345.5 L807.0,344.5 L805.9,343.6 L804.7,342.7 L803.5,341.8 L802.3,340.9 L801.1,340.1 L799.8,339.3 L798.4,338.5 L797.1,337.7 L795.7,337.0 L794.3,336.4 L792.9,335.7 L791.5,335.1 L790.0,334.6 L788.6,334.1 L787.1,333.6 L785.6,333.1 L784.1,332.7 L782.6,332.4 L781.1,332.1 L779.6,331.8 L778.1,331.6 L776.6,331.4 L775.0,331.3 L773.5,331.2 L772.0,331.1 L770.5,331.1 L769.1,331.2 L767.6,331.3 L766.1,331.4 L764.7,331.6 L763.3,331.8 L761.9,332.1 L760.5,332.4 L759.1,332.8 L757.8,333.2 L756.5,333.6 L755.2,334.1 L754.0,334.6 L752.8,335.2 L751.6,335.8 L750.5,336.5 L749.4,337.2 L748.3,337.9 L747.3,338.7 L746.3,339.5 L745.3,340.4 L744.4,341.2 L743.6,342.2 L742.8,343.1 L742.0,344.1 L741.3,345.1" fill="none" stroke="#cccb1e" stroke-width="4.6"/><path d="M810.9,397.7 L811.4,396.9 L811.9,395.9 L812.4,395.0 L812.8,394.0 L813.2,393.0 L813.5,392.0 L813.8,391.0 L814.0,389.9 L814.1,388.9 L814.2,387.8 L814.2,386.7 L814.2,385.6 L814.2,384.4 L814.0,383.3 L813.9,382.2 L813.6,381.0 L813.4,379.9 L813.0,378.7 L812.6,377.6 L812.2,376.4 L811.7,375.3 L811.1,374.1 L810.5,373.0 L809.9,371.8 L809.2,370.7 L808.5,369.6 L807.7,368.5 L806.8,367.4 L805.9,366.3 L805.0,365.3 L804.0,364.2 L803.0,363.2 L802.0,362.2 L800.9,361.3 L799.8,360.3 L798.6,359.4 L797.4,358.5 L796.2,357.6 L794.9,356.8 L793.6,356.0 L792.3,355.2 L791.0,354.5 L789.6,353.8 L788.2,353.1 L786.8,352.5 L785.3,351.9 L783.9,351.3 L782.4,350.8 L781.0,350.3 L779.5,349.9 L778.0,349.5 L776.5,349.2 L774.9,348.9 L773.4,348.6 L771.9,348.4 L770.4,348.2 L768.9,348.1 L767.4,348.0 L765.9,347.9 L764.4,347.9 L762.9,348.0 L761.4,348.1 L760.0,348.2 L758.5,348.4 L757.1,348.6 L755.7,348.9 L754.4,349.2 L753.0,349.6 L751.7,350.0 L750.4,350.4 L749.1,350.9 L747.9,351.5 L746.6,352.1 L745.5,352.7 L744.3,353.3 L743.2,354.0 L742.2,354.8 L741.1,355.6 L740.2,356.4 L739.2,357.2 L738.3,358.1 L737.5,359.0 L736.7,360.0 L735.9,361.0 L735.2,362.0" fill="none" stroke="#000" stroke-width="6"/><path d="M810.9,395.0 L811.4,394.2 L811.9,393.2 L812.4,392.3 L812.8,391.3 L813.2,390.3 L813.5,389.3 L813.8,388.3 L814.0,387.2 L814.1,386.2 L814.2,385.1 L814.2,384.0 L814.2,382.9 L814.2,381.7 L814.0,380.6 L813.9,379.5 L813.6,378.3 L813.4,377.2 L813.0,376.0 L812.6,374.9 L812.2,373.7 L811.7,372.6 L811.1,371.4 L810.5,370.3 L809.9,369.1 L809.2,368.0 L808.5,366.9 L807.7,365.8 L806.8,364.7 L805.9,363.6 L805.0,362.6 L804.0,361.5 L803.0,360.5 L802.0,359.5 L800.9,358.6 L799.8,357.6 L798.6,356.7 L797.4,355.8 L796.2,354.9 L794.9,354.1 L793.6,353.3 L792.3,352.5 L791.0,351.8 L789.6,351.1 L788.2,350.4 L786.8,349.8 L785.3,349.2 L783.9,348.6 L782.4,348.1 L781.0,347.6 L779.5,347.2 L778.0,346.8 L776.5,346.5 L774.9,346.2 L773.4,345.9 L771.9,345.7 L770.4,345.5 L768.9,345.4 L767.4,345.3 L765.9,345.2 L764.4,345.2 L762.9,345.3 L761.4,345.4 L760.0,345.5 L758.5,345.7 L757.1,345.9 L755.7,346.2 L754.4,346.5 L753.0,346.9 L751.7,347.3 L750.4,347.7 L749.1,348.2 L747.9,348.8 L746.6,349.4 L745.5,350.0 L744.3,350.6 L743.2,351.3 L742.2,352.1 L741.1,352.9 L740.2,353.7 L739.2,354.5 L738.3,355.4 L737.5,356.3 L736.7,357.3 L735.9,358.3 L735.2,359.3" fill="none" stroke="#cccb1e" stroke-width="4.6"/><path d="M804.8,411.8 L805.4,410.9 L805.9,410.0 L806.4,409.0 L806.8,408.1 L807.2,407.1 L807.5,406.0 L807.7,405.0 L807.9,404.0 L808.1,402.9 L808.2,401.8 L808.2,400.7 L808.2,399.6 L808.1,398.5 L808.0,397.3 L807.8,396.2 L807.6,395.0 L807.3,393.9 L806.9,392.7 L806.5,391.6 L806.1,390.4 L805.6,389.3 L805.1,388.1 L804.5,387.0 L803.8,385.9 L803.1,384.7 L802.4,383.6 L801.6,382.5 L800.7,381.4 L799.8,380.4 L798.9,379.3 L797.9,378.3 L796.9,377.3 L795.9,376.3 L794.8,375.3 L793.6,374.4 L792.5,373.4 L791.3,372.5 L790.0,371.7 L788.8,370.8 L787.5,370.0 L786.2,369.3 L784.8,368.5 L783.4,367.8 L782.0,367.2 L780.6,366.5 L779.2,366.0 L777.7,365.4 L776.3,364.9 L774.8,364.4 L773.3,364.0 L771.8,363.6 L770.3,363.2 L768.8,362.9 L767.3,362.7 L765.8,362.5 L764.2,362.3 L762.7,362.2 L761.2,362.1 L759.7,362.0 L758.2,362.0 L756.8,362.1 L755.3,362.2 L753.8,362.3 L752.4,362.5 L751.0,362.7 L749.6,363.0 L748.2,363.3 L746.9,363.7 L745.5,364.1 L744.2,364.6 L743.0,365.1 L741.7,365.6 L740.5,366.2 L739.3,366.8 L738.2,367.5 L737.1,368.2 L736.0,368.9 L735.0,369.7 L734.0,370.5 L733.1,371.4 L732.2,372.3 L731.4,373.2 L730.6,374.1 L729.8,375.1 L729.1,376.1" fill="none" stroke="#000" stroke-width="6"/><path d="M804.8,409.1 L805.4,408.2 L805.9,407.3 L806.4,406.3 L806.8,405.4 L807.2,404.4 L807.5,403.3 L807.7,402.3 L807.9,401.3 L808.1,400.2 L808.2,399.1 L808.2,398.0 L808.2,396.9 L808.1,395.8 L808.0,394.6 L807.8,393.5 L807.6,392.3 L807.3,391.2 L806.9,390.0 L806.5,388.9 L806.1,387.7 L805.6,386.6 L805.1,385.4 L804.5,384.3 L803.8,383.2 L803.1,382.0 L802.4,380.9 L801.6,379.8 L800.7,378.7 L799.8,377.7 L798.9,376.6 L797.9,375.6 L796.9,374.6 L795.9,373.6 L794.8,372.6 L793.6,371.7 L792.5,370.7 L791.3,369.8 L790.0,369.0 L788.8,368.1 L787.5,367.3 L786.2,366.6 L784.8,365.8 L783.4,365.1 L782.0,364.5 L780.6,363.8 L779.2,363.3 L777.7,362.7 L776.3,362.2 L774.8,361.7 L773.3,361.3 L771.8,360.9 L770.3,360.5 L768.8,360.2 L767.3,360.0 L765.8,359.8 L764.2,359.6 L762.7,359.5 L761.2,359.4 L759.7,359.3 L758.2,359.3 L756.8,359.4 L755.3,359.5 L753.8,359.6 L752.4,359.8 L751.0,360.0 L749.6,360.3 L748.2,360.6 L746.9,361.0 L745.5,361.4 L744.2,361.9 L743.0,362.4 L741.7,362.9 L740.5,363.5 L739.3,364.1 L738.2,364.8 L737.1,365.5 L736.0,366.2 L735.0,367.0 L734.0,367.8 L733.1,368.7 L732.2,369.6 L731.4,370.5 L730.6,371.4 L729.8,372.4 L729.1,373.4" fill="none" stroke="#cccb1e" stroke-width="4.6"/><path d="M798.8,425.8 L799.4,424.9 L799.9,424.0 L800.4,423.1 L800.8,422.1 L801.1,421.1 L801.4,420.1 L801.7,419.0 L801.9,418.0 L802.0,416.9" fill="none" stroke="#000" stroke-width="6"/><path d="M798.8,423.1 L799.4,422.2 L799.9,421.3 L800.4,420.4 L800.8,419.4 L801.1,418.4 L801.4,417.4 L801.7,416.3 L801.9,415.3 L802.0,414.2" fill="none" stroke="#cccb1e" stroke-width="4.6"/>
<path d="M866.6,403.3 L866.0,404.4 L865.5,405.5 L864.9,406.6 L864.5,407.8 L864.1,408.9 L863.7,410.1 L863.4,411.3 L863.2,412.6 L863.0,413.8 L862.8,415.1 L862.7,416.3 L862.7,417.6 L862.7,418.9 L862.8,420.2 L862.9,421.5 L863.1,422.8 L863.4,424.2 L863.6,425.5 L864.0,426.8 L864.4,428.1 L864.8,429.4 L865.3,430.7 L865.9,432.0 L866.5,433.3 L867.1,434.6 L867.8,435.9 L868.6,437.1 L869.4,438.4 L870.2,439.6 L871.1,440.8 L872.0,442.0 L872.9,443.2 L873.9,444.3 L875.0,445.5 L876.0,446.6 L877.2,447.6 L878.3,448.7 L879.5,449.7 L880.7,450.7 L881.9,451.6 L883.2,452.6 L884.5,453.4 L885.8,454.3 L887.1,455.1 L888.5,455.9 L889.8,456.6 L891.2,457.3 L892.6,458.0 L894.0,458.6 L895.4,459.2 L896.9,459.7 L898.3,460.2 L899.8,460.7 L901.2,461.1 L902.6,461.5 L904.1,461.8 L905.5,462.1 L907.0,462.3 L908.4,462.5 L909.8,462.6 L911.2,462.7 L912.6,462.8 L914.0,462.8 L915.3,462.7 L916.7,462.7 L918.0,462.5 L919.3,462.3 L920.6,462.1 L921.8,461.9 L923.0,461.6 L924.2,461.2 L925.4,460.8 L926.5,460.4 L927.6,459.9 L928.6,459.4 L929.6,458.8 L930.6,458.3 L931.6,457.6 L932.4,457.0 L933.3,456.3 L934.1,455.5 L934.9,454.7 L935.6,453.9 L936.2,453.1" fill="none" stroke="#000" stroke-width="5.8"/><path d="M860.5,417.5 L859.9,418.6 L859.4,419.7 L858.9,420.8 L858.4,422.0 L858.0,423.1 L857.6,424.3 L857.3,425.5 L857.1,426.8 L856.9,428.0 L856.8,429.3 L856.7,430.5 L856.7,431.8 L856.7,433.1 L856.8,434.4 L856.9,435.7 L857.1,437.0 L857.3,438.3 L857.6,439.7 L858.0,441.0 L858.4,442.3 L858.8,443.6 L859.3,444.9 L859.9,446.2 L860.5,447.5 L861.1,448.8 L861.8,450.1 L862.6,451.3 L863.4,452.6 L864.2,453.8 L865.1,455.0 L866.0,456.2 L867.0,457.4 L868.0,458.5 L869.0,459.6 L870.1,460.7 L871.2,461.8 L872.3,462.9 L873.5,463.9 L874.7,464.9 L876.0,465.8 L877.2,466.7 L878.5,467.6 L879.8,468.5 L881.2,469.3 L882.5,470.0 L883.9,470.8 L885.3,471.5 L886.7,472.1 L888.1,472.8 L889.5,473.3 L890.9,473.9 L892.4,474.4 L893.8,474.8 L895.3,475.2 L896.7,475.6 L898.1,475.9 L899.6,476.2 L901.0,476.4 L902.4,476.6 L903.9,476.7 L905.3,476.8 L906.7,476.9 L908.0,476.9 L909.4,476.8 L910.7,476.7 L912.0,476.6 L913.3,476.4 L914.6,476.2 L915.8,475.9 L917.1,475.6 L918.2,475.3 L919.4,474.9 L920.5,474.5 L921.6,474.0 L922.7,473.5 L923.7,472.9 L924.6,472.3 L925.6,471.7 L926.5,471.0 L927.3,470.3 L928.1,469.6 L928.9,468.8 L929.6,468.0 L930.2,467.2" fill="none" stroke="#000" stroke-width="5.8"/><path d="M854.4,431.7 L853.8,432.8 L853.3,433.9 L852.8,435.0 L852.3,436.1 L851.9,437.3 L851.6,438.5 L851.3,439.7 L851.0,440.9 L850.8,442.2 L850.7,443.4 L850.6,444.7 L850.6,446.0 L850.6,447.3 L850.7,448.6 L850.9,449.9 L851.0,451.2 L851.3,452.5 L851.6,453.9 L851.9,455.2 L852.3,456.5 L852.8,457.8 L853.3,459.1 L853.9,460.4 L854.5,461.7 L855.1,463.0 L855.8,464.3 L856.6,465.5 L857.4,466.8 L858.2,468.0 L859.1,469.2 L860.0,470.4 L861.0,471.6 L862.0,472.7 L863.0,473.8 L864.1,474.9 L865.2,476.0 L866.4,477.0 L867.5,478.0 L868.8,479.0 L870.0,480.0 L871.3,480.9 L872.5,481.8 L873.9,482.6 L875.2,483.4 L876.6,484.2 L877.9,484.9 L879.3,485.6 L880.7,486.3 L882.1,486.9 L883.6,487.5 L885.0,488.0 L886.4,488.5 L887.9,489.0 L889.3,489.4 L890.8,489.7 L892.2,490.0 L893.6,490.3 L895.1,490.5 L896.5,490.7 L897.9,490.8 L899.3,490.9 L900.7,491.0 L902.1,491.0 L903.4,490.9 L904.8,490.8 L906.1,490.7 L907.4,490.5 L908.6,490.3 L909.9,490.0 L911.1,489.7 L912.3,489.4 L913.4,489.0 L914.5,488.5 L915.6,488.0 L916.7,487.5 L917.7,487.0 L918.7,486.4 L919.6,485.7 L920.5,485.1 L921.3,484.4 L922.1,483.6 L922.9,482.8 L923.6,482.0 L924.2,481.2" fill="none" stroke="#000" stroke-width="5.8"/><path d="M864.7,409.4 L864.5,410.7 L864.3,411.9 L864.1,413.2 L864.0,414.4 L864.0,415.7 L864.0,417.0 L864.1,418.3 L864.2,419.6 L864.4,420.9 L864.7,422.3 L864.9,423.6 L865.3,424.9 L865.7,426.2 L866.1,427.5 L866.6,428.8 L867.2,430.1 L867.8,431.4 L868.4,432.7 L869.1,434.0 L869.9,435.2 L870.7,436.5 L871.5,437.7 L872.4,438.9 L873.3,440.1 L874.2,441.3 L875.2,442.4 L876.3,443.6 L877.3,444.7 L878.5,445.7 L879.6,446.8 L880.8,447.8 L882.0,448.8 L883.2,449.7 L884.5,450.7 L885.8,451.5 L887.1,452.4 L888.4,453.2 L889.8,454.0 L891.1,454.7 L892.5,455.4 L893.9,456.1 L895.3,456.7 L896.7,457.3 L898.2,457.8 L899.6,458.3" fill="none" stroke="#c8c61c" stroke-width="2.0"/><path d="M858.6,423.6 L858.4,424.9 L858.2,426.1 L858.1,427.4 L858.0,428.6 L858.0,429.9 L858.0,431.2 L858.1,432.5 L858.2,433.8 L858.4,435.1 L858.6,436.4 L858.9,437.8 L859.3,439.1 L859.7,440.4 L860.1,441.7 L860.6,443.0 L861.2,444.3 L861.8,445.6 L862.4,446.9 L863.1,448.2 L863.9,449.4 L864.7,450.7 L865.5,451.9 L866.4,453.1 L867.3,454.3 L868.3,455.5 L869.3,456.6 L870.3,457.7 L871.4,458.8 L872.5,459.9 L873.6,461.0 L874.8,462.0 L876.0,463.0 L877.3,463.9 L878.5,464.8 L879.8,465.7 L881.1,466.6 L882.5,467.4 L883.8,468.1 L885.2,468.9 L886.6,469.6 L888.0,470.2 L889.4,470.9 L890.8,471.4 L892.2,472.0 L893.7,472.5" fill="none" stroke="#c8c61c" stroke-width="2.0"/><path d="M852.6,437.8 L852.3,439.0 L852.1,440.3 L852.0,441.5 L851.9,442.8 L851.9,444.1 L851.9,445.4 L852.0,446.7 L852.2,448.0 L852.3,449.3 L852.6,450.6 L852.9,452.0 L853.2,453.3 L853.6,454.6 L854.1,455.9 L854.6,457.2 L855.2,458.5 L855.8,459.8 L856.4,461.1 L857.1,462.4 L857.9,463.6 L858.7,464.9 L859.5,466.1 L860.4,467.3 L861.3,468.5 L862.3,469.7 L863.3,470.8 L864.3,471.9 L865.4,473.0 L866.5,474.1 L867.7,475.1 L868.8,476.1 L870.1,477.1 L871.3,478.1 L872.6,479.0 L873.8,479.9 L875.2,480.7 L876.5,481.5 L877.9,482.3 L879.2,483.0 L880.6,483.7 L882.0,484.4 L883.4,485.0 L884.9,485.6 L886.3,486.1 L887.7,486.6" fill="none" stroke="#c8c61c" stroke-width="2.0"/><path d="M943.2,416.1 L942.6,415.0 L942.0,413.8 L941.3,412.7 L940.6,411.6 L939.8,410.5 L938.9,409.4 L938.1,408.3 L937.1,407.3 L936.2,406.2 L935.2,405.2 L934.1,404.2 L933.0,403.2 L931.9,402.3 L930.7,401.4 L929.5,400.5 L928.3,399.6 L927.1,398.8 L925.8,398.0 L924.4,397.2 L923.1,396.4 L921.7,395.7 L920.3,395.1 L918.9,394.4 L917.5,393.8 L916.0,393.3 L914.6,392.8 L913.1,392.3 L911.6,391.8 L910.1,391.4 L908.6,391.1 L907.1,390.8 L905.6,390.5 L904.1,390.3 L902.6,390.1 L901.0,390.0 L899.5,389.9 L898.0,389.8 L896.5,389.8 L895.1,389.9 L893.6,390.0 L892.1,390.1 L890.7,390.3 L889.3,390.5 L887.9,390.8 L886.5,391.1 L885.1,391.5 L883.8,391.9 L882.5,392.3 L881.2,392.8 L880.0,393.3 L878.8,393.9 L877.6,394.5 L876.5,395.2 L875.4,395.9 L874.3,396.6 L873.3,397.4 L872.3,398.2 L871.3,399.1 L870.4,399.9 L869.6,400.9 L868.8,401.8 L868.0,402.8 L867.3,403.8" fill="none" stroke="#000" stroke-width="6"/><path d="M943.2,413.4 L942.6,412.3 L942.0,411.1 L941.3,410.0 L940.6,408.9 L939.8,407.8 L938.9,406.7 L938.1,405.6 L937.1,404.6 L936.2,403.5 L935.2,402.5 L934.1,401.5 L933.0,400.5 L931.9,399.6 L930.7,398.7 L929.5,397.8 L928.3,396.9 L927.1,396.1 L925.8,395.3 L924.4,394.5 L923.1,393.7 L921.7,393.0 L920.3,392.4 L918.9,391.7 L917.5,391.1 L916.0,390.6 L914.6,390.1 L913.1,389.6 L911.6,389.1 L910.1,388.7 L908.6,388.4 L907.1,388.1 L905.6,387.8 L904.1,387.6 L902.6,387.4 L901.0,387.3 L899.5,387.2 L898.0,387.1 L896.5,387.1 L895.1,387.2 L893.6,387.3 L892.1,387.4 L890.7,387.6 L889.3,387.8 L887.9,388.1 L886.5,388.4 L885.1,388.8 L883.8,389.2 L882.5,389.6 L881.2,390.1 L880.0,390.6 L878.8,391.2 L877.6,391.8 L876.5,392.5 L875.4,393.2 L874.3,393.9 L873.3,394.7 L872.3,395.5 L871.3,396.4 L870.4,397.2 L869.6,398.2 L868.8,399.1 L868.0,400.1 L867.3,401.1" fill="none" stroke="#cccb1e" stroke-width="4.6"/><path d="M936.9,453.7 L937.4,452.9 L937.9,451.9 L938.4,451.0 L938.8,450.0 L939.2,449.0 L939.5,448.0 L939.8,447.0 L940.0,445.9 L940.1,444.9 L940.2,443.8 L940.2,442.7 L940.2,441.6 L940.2,440.4 L940.0,439.3 L939.9,438.2 L939.6,437.0 L939.4,435.9 L939.0,434.7 L938.6,433.6 L938.2,432.4 L937.7,431.3 L937.1,430.1 L936.5,429.0 L935.9,427.8 L935.2,426.7 L934.5,425.6 L933.7,424.5 L932.8,423.4 L931.9,422.3 L931.0,421.3 L930.0,420.2 L929.0,419.2 L928.0,418.2 L926.9,417.3 L925.8,416.3 L924.6,415.4 L923.4,414.5 L922.2,413.6 L920.9,412.8 L919.6,412.0 L918.3,411.2 L917.0,410.5 L915.6,409.8 L914.2,409.1 L912.8,408.5 L911.3,407.9 L909.9,407.3 L908.4,406.8 L907.0,406.3 L905.5,405.9 L904.0,405.5 L902.5,405.2 L900.9,404.9 L899.4,404.6 L897.9,404.4 L896.4,404.2 L894.9,404.1 L893.4,404.0 L891.9,403.9 L890.4,403.9 L888.9,404.0 L887.4,404.1 L886.0,404.2 L884.5,404.4 L883.1,404.6 L881.7,404.9 L880.4,405.2 L879.0,405.6 L877.7,406.0 L876.4,406.4 L875.1,406.9 L873.9,407.5 L872.6,408.1 L871.5,408.7 L870.3,409.3 L869.2,410.0 L868.2,410.8 L867.1,411.6 L866.2,412.4 L865.2,413.2 L864.3,414.1 L863.5,415.0 L862.7,416.0 L861.9,417.0 L861.2,418.0" fill="none" stroke="#000" stroke-width="6"/><path d="M936.9,451.0 L937.4,450.2 L937.9,449.2 L938.4,448.3 L938.8,447.3 L939.2,446.3 L939.5,445.3 L939.8,444.3 L940.0,443.2 L940.1,442.2 L940.2,441.1 L940.2,440.0 L940.2,438.9 L940.2,437.7 L940.0,436.6 L939.9,435.5 L939.6,434.3 L939.4,433.2 L939.0,432.0 L938.6,430.9 L938.2,429.7 L937.7,428.6 L937.1,427.4 L936.5,426.3 L935.9,425.1 L935.2,424.0 L934.5,422.9 L933.7,421.8 L932.8,420.7 L931.9,419.6 L931.0,418.6 L930.0,417.5 L929.0,416.5 L928.0,415.5 L926.9,414.6 L925.8,413.6 L924.6,412.7 L923.4,411.8 L922.2,410.9 L920.9,410.1 L919.6,409.3 L918.3,408.5 L917.0,407.8 L915.6,407.1 L914.2,406.4 L912.8,405.8 L911.3,405.2 L909.9,404.6 L908.4,404.1 L907.0,403.6 L905.5,403.2 L904.0,402.8 L902.5,402.5 L900.9,402.2 L899.4,401.9 L897.9,401.7 L896.4,401.5 L894.9,401.4 L893.4,401.3 L891.9,401.2 L890.4,401.2 L888.9,401.3 L887.4,401.4 L886.0,401.5 L884.5,401.7 L883.1,401.9 L881.7,402.2 L880.4,402.5 L879.0,402.9 L877.7,403.3 L876.4,403.7 L875.1,404.2 L873.9,404.8 L872.6,405.4 L871.5,406.0 L870.3,406.6 L869.2,407.3 L868.2,408.1 L867.1,408.9 L866.2,409.7 L865.2,410.5 L864.3,411.4 L863.5,412.3 L862.7,413.3 L861.9,414.3 L861.2,415.3" fill="none" stroke="#cccb1e" stroke-width="4.6"/><path d="M930.8,467.8 L931.4,466.9 L931.9,466.0 L932.4,465.0 L932.8,464.1 L933.2,463.1 L933.5,462.0 L933.7,461.0 L933.9,460.0 L934.1,458.9 L934.2,457.8 L934.2,456.7 L934.2,455.6 L934.1,454.5 L934.0,453.3 L933.8,452.2 L933.6,451.0 L933.3,449.9 L932.9,448.7 L932.5,447.6 L932.1,446.4 L931.6,445.3 L931.1,444.1 L930.5,443.0 L929.8,441.9 L929.1,440.7 L928.4,439.6 L927.6,438.5 L926.7,437.4 L925.8,436.4 L924.9,435.3 L923.9,434.3 L922.9,433.3 L921.9,432.3 L920.8,431.3 L919.6,430.4 L918.5,429.4 L917.3,428.5 L916.0,427.7 L914.8,426.8 L913.5,426.0 L912.2,425.3 L910.8,424.5 L909.4,423.8 L908.0,423.2 L906.6,422.5 L905.2,422.0 L903.7,421.4 L902.3,420.9 L900.8,420.4 L899.3,420.0 L897.8,419.6 L896.3,419.2 L894.8,418.9 L893.3,418.7 L891.8,418.5 L890.2,418.3 L888.7,418.2 L887.2,418.1 L885.7,418.0 L884.2,418.0 L882.8,418.1 L881.3,418.2 L879.8,418.3 L878.4,418.5 L877.0,418.7 L875.6,419.0 L874.2,419.3 L872.9,419.7 L871.5,420.1 L870.2,420.6 L869.0,421.1 L867.7,421.6 L866.5,422.2 L865.3,422.8 L864.2,423.5 L863.1,424.2 L862.0,424.9 L861.0,425.7 L860.0,426.5 L859.1,427.4 L858.2,428.3 L857.4,429.2 L856.6,430.1 L855.8,431.1 L855.1,432.1" fill="none" stroke="#000" stroke-width="6"/><path d="M930.8,465.1 L931.4,464.2 L931.9,463.3 L932.4,462.3 L932.8,461.4 L933.2,460.4 L933.5,459.3 L933.7,458.3 L933.9,457.3 L934.1,456.2 L934.2,455.1 L934.2,454.0 L934.2,452.9 L934.1,451.8 L934.0,450.6 L933.8,449.5 L933.6,448.3 L933.3,447.2 L932.9,446.0 L932.5,444.9 L932.1,443.7 L931.6,442.6 L931.1,441.4 L930.5,440.3 L929.8,439.2 L929.1,438.0 L928.4,436.9 L927.6,435.8 L926.7,434.7 L925.8,433.7 L924.9,432.6 L923.9,431.6 L922.9,430.6 L921.9,429.6 L920.8,428.6 L919.6,427.7 L918.5,426.7 L917.3,425.8 L916.0,425.0 L914.8,424.1 L913.5,423.3 L912.2,422.6 L910.8,421.8 L909.4,421.1 L908.0,420.5 L906.6,419.8 L905.2,419.3 L903.7,418.7 L902.3,418.2 L900.8,417.7 L899.3,417.3 L897.8,416.9 L896.3,416.5 L894.8,416.2 L893.3,416.0 L891.8,415.8 L890.2,415.6 L888.7,415.5 L887.2,415.4 L885.7,415.3 L884.2,415.3 L882.8,415.4 L881.3,415.5 L879.8,415.6 L878.4,415.8 L877.0,416.0 L875.6,416.3 L874.2,416.6 L872.9,417.0 L871.5,417.4 L870.2,417.9 L869.0,418.4 L867.7,418.9 L866.5,419.5 L865.3,420.1 L864.2,420.8 L863.1,421.5 L862.0,422.2 L861.0,423.0 L860.0,423.8 L859.1,424.7 L858.2,425.6 L857.4,426.5 L856.6,427.4 L855.8,428.4 L855.1,429.4" fill="none" stroke="#cccb1e" stroke-width="4.6"/><path d="M924.8,481.8 L925.4,480.9 L925.9,480.0 L926.4,479.1 L926.8,478.1 L927.1,477.1 L927.4,476.1 L927.7,475.0 L927.9,474.0 L928.0,472.9" fill="none" stroke="#000" stroke-width="6"/><path d="M924.8,479.1 L925.4,478.2 L925.9,477.3 L926.4,476.4 L926.8,475.4 L927.1,474.4 L927.4,473.4 L927.7,472.3 L927.9,471.3 L928.0,470.2" fill="none" stroke="#cccb1e" stroke-width="4.6"/>
<path d="M828.4,219.8 Q839.2,205.5 849.2,219.1" fill="none" stroke="#000" stroke-width="1.8"/>
<path d="M851.7,223.6 L845.7,219.1 L852.3,216.2 Z" fill="#000"/>
<path d="M819.6,233.9 Q828.9,219.8 840.1,235.7" fill="none" stroke="#000" stroke-width="1.8"/>
<path d="M842.6,240.2 L836.6,235.7 L843.2,232.8 Z" fill="#000"/>
<path d="M812.7,249.9 Q821.7,236.4 833.8,250.3" fill="none" stroke="#000" stroke-width="1.8"/>
<path d="M836.3,254.8 L830.3,250.3 L836.9,247.4 Z" fill="#000"/>
<text x="814" y="205.5" font-size="16">τ</text><text x="821.5" y="210" font-size="12.5">ph</text>
<text x="766" y="244.8" font-size="17" font-style="italic">D</text>
<path d="M743,243.8 L783.2,257.1 M775.7,250.3 L783.7,257.2 L772.8,259.2" fill="none" stroke="#3d9fbb" stroke-width="2.3" stroke-linecap="round" stroke-linejoin="round"/>
<path d="M885.8,299 L864.6,289.7 M874.3,288.9 L864.3,289.6 L870.2,297.3" fill="none" stroke="#3d9fbb" stroke-width="2.2" stroke-linecap="round" stroke-linejoin="round"/>
<path d="M829.5,290.3 Q819.8,275.0 809.3,292.5" fill="none" stroke="#000" stroke-width="1.8"/>
<path d="M807.3,297.3 L806.4,289.9 L813.1,292.6 Z" fill="#000"/>
<path d="M822.6,304.2 Q813.8,291.7 803.0,309.2" fill="none" stroke="#000" stroke-width="1.8"/>
<path d="M801.0,314.0 L800.1,306.6 L806.8,309.3 Z" fill="#000"/>
<path d="M816.3,321.6 Q807.7,308.1 796.7,325.8" fill="none" stroke="#000" stroke-width="1.8"/>
<path d="M794.7,330.6 L793.8,323.2 L800.5,325.9 Z" fill="#000"/>
<text x="790" y="294.8" font-size="16">τ</text><text x="797.5" y="300" font-size="12.5">r</text>
<line x1="820.5" y1="298.6" x2="855.2" y2="311.9" stroke="#000" stroke-width="1.3" marker-end="url(#ah)"/>
<line x1="812.1" y1="312.3" x2="847.6" y2="324.4" stroke="#000" stroke-width="1.3" marker-end="url(#ah)"/>
<line x1="805.9" y1="323.7" x2="840.6" y2="336.9" stroke="#000" stroke-width="1.3" marker-end="url(#ah)"/>
<text x="852" y="336.2" font-size="17">F</text><text x="862.5" y="341.5" font-size="12.5">fr</text>
</svg>
</body></html>
